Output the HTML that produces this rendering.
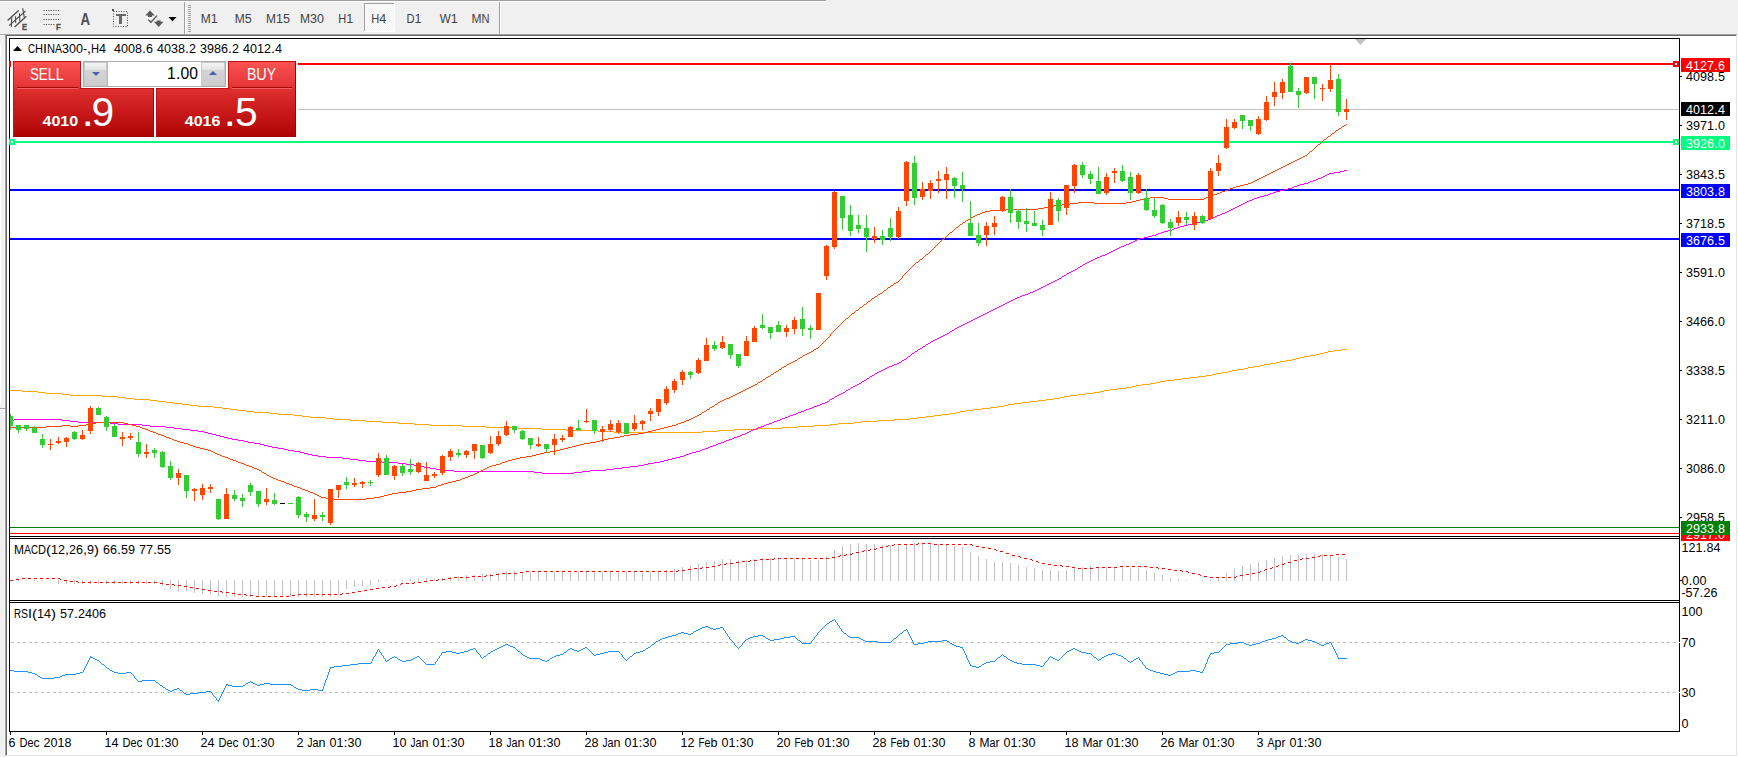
<!DOCTYPE html>
<html><head><meta charset="utf-8"><title>CHINA300-,H4</title>
<style>html,body{margin:0;padding:0;background:#f0f0f0;overflow:hidden}svg{display:block}text{white-space:pre}</style>
</head><body>
<svg width="1738" height="757" viewBox="0 0 1738 757" font-family='"Liberation Sans", Arial, sans-serif' shape-rendering="crispEdges">
<defs>
<linearGradient id="gtab" x1="0" y1="0" x2="0" y2="1"><stop offset="0" stop-color="#fb5353"/><stop offset="1" stop-color="#e23232"/></linearGradient>
<linearGradient id="gpan" x1="0" y1="0" x2="0" y2="1"><stop offset="0" stop-color="#e03030"/><stop offset="1" stop-color="#ae0202"/></linearGradient>
<linearGradient id="gbtn" x1="0" y1="0" x2="0" y2="1"><stop offset="0" stop-color="#f4f4f4"/><stop offset="0.3" stop-color="#e4e4e4"/><stop offset="0.31" stop-color="#d4d4d4"/><stop offset="1" stop-color="#cdcdcd"/></linearGradient>
<pattern id="dith" width="2" height="2" patternUnits="userSpaceOnUse"><rect width="2" height="2" fill="#ffffff"/><rect width="1" height="1" fill="#f0f0f0"/><rect x="1" y="1" width="1" height="1" fill="#f0f0f0"/></pattern>
</defs>
<rect x="0" y="0" width="1738" height="757" fill="#f0f0f0" />
<rect x="0" y="0" width="826" height="1" fill="#a0a0a0" />
<rect x="0" y="1" width="827" height="1" fill="#ffffff" />
<rect x="7" y="36" width="1729" height="719" fill="#ffffff" />
<rect x="0" y="44" width="1" height="361" fill="#ffffff" />
<rect x="4" y="36" width="1" height="721" fill="#f8f8f8" />
<rect x="0" y="34" width="1737" height="1" fill="#a0a0a0" />
<rect x="0" y="35" width="5" height="1" fill="#ffffff" />
<rect x="6" y="35" width="1730" height="1" fill="#696969" />
<rect x="0" y="408" width="5" height="1" fill="#a0a0a0" />
<rect x="0" y="409" width="5" height="1" fill="#ffffff" />
<rect x="5" y="34" width="1" height="722" fill="#a0a0a0" />
<rect x="6" y="35" width="1" height="720" fill="#696969" />
<rect x="1736" y="35" width="1" height="721" fill="#e3e3e3" />
<rect x="1737" y="34" width="1" height="723" fill="#ffffff" />
<rect x="6" y="755" width="1731" height="1" fill="#e3e3e3" />
<rect x="5" y="756" width="1733" height="1" fill="#ffffff" />
<g shape-rendering="geometricPrecision" stroke="#4c4c4c" fill="none" stroke-width="1.3">
<path d="M7.6 20.4 L18.6 10.4 M14.6 27 L26.3 16.3" stroke-width="1.3"/>
<path d="M9 25.6 L25.5 11 M11.7 17.3 L11.4 26.8 M15.5 16.3 L15.7 23 M19.4 13.3 L19.9 21.6 M22.7 8.2 L24.2 17.2" stroke-width="1.1"/>
</g>
<text y="29.7" font-size="9" fill="#505050" font-weight="bold" stroke="#505050" stroke-width="0.35"><tspan x="22" textLength="5.06" lengthAdjust="spacingAndGlyphs">E</tspan></text>
<line x1="43.5" y1="10.5" x2="60.5" y2="10.5" stroke="#505050" stroke-width="1" stroke-dasharray="1.2 1.2" shape-rendering="geometricPrecision"/>
<line x1="43.5" y1="14.5" x2="60.5" y2="14.5" stroke="#505050" stroke-width="1" stroke-dasharray="1.2 1.2" shape-rendering="geometricPrecision"/>
<line x1="43.5" y1="19.5" x2="60.5" y2="19.5" stroke="#505050" stroke-width="1" stroke-dasharray="1.2 1.2" shape-rendering="geometricPrecision"/>
<line x1="43.5" y1="24.5" x2="55.5" y2="24.5" stroke="#505050" stroke-width="1" stroke-dasharray="1.2 1.2" shape-rendering="geometricPrecision"/>
<text y="29.7" font-size="9" fill="#505050" font-weight="bold" stroke="#505050" stroke-width="0.35"><tspan x="56" textLength="4.73" lengthAdjust="spacingAndGlyphs">F</tspan></text>
<text y="24.5" font-size="16" fill="#505050" font-weight="bold" ><tspan x="80.6" textLength="9.6" lengthAdjust="spacingAndGlyphs">A</tspan></text>
<rect x="113.5" y="11.5" width="14" height="15" fill="none" stroke="#505050" stroke-dasharray="1 1.5" shape-rendering="geometricPrecision"/>
<rect x="112" y="9" width="2" height="2" fill="#505050" />
<rect x="116" y="14" width="10" height="2" fill="#686868" />
<rect x="119" y="14" width="3" height="10" fill="#686868" />
<g shape-rendering="geometricPrecision" fill="#585858">
<path d="M150 10.5 L154.8 15.6 L152 15.6 L152 17 L148 17 L148 15.6 L145.2 15.6 Z"/>
<path d="M158.7 27 L163.5 21.8 L160.7 21.8 L160.7 20.4 L156.7 20.4 L156.7 21.8 L153.9 21.8 Z"/>
<path d="M148.3 19.8 L151 22.3 L157 15.6" fill="none" stroke="#585858" stroke-width="1.4"/>
<path d="M168.5 17 L176.5 17 L172.5 21.2 Z" fill="#000"/>
</g>
<rect x="184" y="2" width="1" height="32" fill="#a0a0a0" />
<rect x="185" y="2" width="1" height="32" fill="#ffffff" />
<rect x="188" y="5" width="3" height="1" fill="#a0a0a0" />
<rect x="188" y="7" width="3" height="1" fill="#a0a0a0" />
<rect x="188" y="9" width="3" height="1" fill="#a0a0a0" />
<rect x="188" y="11" width="3" height="1" fill="#a0a0a0" />
<rect x="188" y="13" width="3" height="1" fill="#a0a0a0" />
<rect x="188" y="15" width="3" height="1" fill="#a0a0a0" />
<rect x="188" y="17" width="3" height="1" fill="#a0a0a0" />
<rect x="188" y="19" width="3" height="1" fill="#a0a0a0" />
<rect x="188" y="21" width="3" height="1" fill="#a0a0a0" />
<rect x="188" y="23" width="3" height="1" fill="#a0a0a0" />
<rect x="188" y="25" width="3" height="1" fill="#a0a0a0" />
<rect x="188" y="27" width="3" height="1" fill="#a0a0a0" />
<rect x="188" y="29" width="3" height="1" fill="#a0a0a0" />
<rect x="188" y="31" width="3" height="1" fill="#a0a0a0" />
<rect x="364" y="3" width="31" height="29" fill="url(#dith)" />
<rect x="364" y="3" width="31" height="1" fill="#a0a0a0" />
<rect x="364" y="3" width="1" height="29" fill="#a0a0a0" />
<rect x="364" y="31" width="31" height="1" fill="#ffffff" />
<rect x="394" y="3" width="1" height="29" fill="#ffffff" />
<text y="23.3" font-size="12" fill="#404040" font-weight="normal" ><tspan x="200.7" textLength="10" lengthAdjust="spacingAndGlyphs">M</tspan><tspan x="210.7" textLength="7" lengthAdjust="spacingAndGlyphs">1</tspan></text>
<text y="23.3" font-size="12" fill="#404040" font-weight="normal" ><tspan x="234.7" textLength="10" lengthAdjust="spacingAndGlyphs">M</tspan><tspan x="244.7" textLength="7" lengthAdjust="spacingAndGlyphs">5</tspan></text>
<text y="23.3" font-size="12" fill="#404040" font-weight="normal" ><tspan x="266" textLength="10" lengthAdjust="spacingAndGlyphs">M</tspan><tspan x="276" textLength="7" lengthAdjust="spacingAndGlyphs">1</tspan><tspan x="283" textLength="7" lengthAdjust="spacingAndGlyphs">5</tspan></text>
<text y="23.3" font-size="12" fill="#404040" font-weight="normal" ><tspan x="300" textLength="10" lengthAdjust="spacingAndGlyphs">M</tspan><tspan x="310" textLength="7" lengthAdjust="spacingAndGlyphs">3</tspan><tspan x="317" textLength="7" lengthAdjust="spacingAndGlyphs">0</tspan></text>
<text y="23.3" font-size="12" fill="#404040" font-weight="normal" ><tspan x="338.3" textLength="8" lengthAdjust="spacingAndGlyphs">H</tspan><tspan x="346.3" textLength="7" lengthAdjust="spacingAndGlyphs">1</tspan></text>
<text y="23.3" font-size="12" fill="#404040" font-weight="normal" ><tspan x="371.3" textLength="8" lengthAdjust="spacingAndGlyphs">H</tspan><tspan x="379.3" textLength="7" lengthAdjust="spacingAndGlyphs">4</tspan></text>
<text y="23.3" font-size="12" fill="#404040" font-weight="normal" ><tspan x="406.5" textLength="8" lengthAdjust="spacingAndGlyphs">D</tspan><tspan x="414.5" textLength="7" lengthAdjust="spacingAndGlyphs">1</tspan></text>
<text y="23.3" font-size="12" fill="#404040" font-weight="normal" ><tspan x="439.7" textLength="11" lengthAdjust="spacingAndGlyphs">W</tspan><tspan x="450.7" textLength="7" lengthAdjust="spacingAndGlyphs">1</tspan></text>
<text y="23.3" font-size="12" fill="#404040" font-weight="normal" ><tspan x="471.5" textLength="10" lengthAdjust="spacingAndGlyphs">M</tspan><tspan x="481.5" textLength="8" lengthAdjust="spacingAndGlyphs">N</tspan></text>
<rect x="499" y="2" width="1" height="32" fill="#a0a0a0" />
<rect x="500" y="2" width="1" height="32" fill="#ffffff" />
<rect x="9" y="38" width="1671" height="1" fill="#000" />
<rect x="9" y="38" width="1" height="694" fill="#000" />
<rect x="1679" y="38" width="1" height="694" fill="#000" />
<rect x="9" y="536" width="1671" height="1" fill="#000" />
<rect x="9" y="538" width="1671" height="1" fill="#000" />
<rect x="9" y="600" width="1671" height="1" fill="#000" />
<rect x="9" y="602" width="1671" height="1" fill="#000" />
<rect x="9" y="731" width="1671" height="1" fill="#000" />
<path d="M1355 39 L1366 39 L1360.5 45 Z" fill="#c0c0c0" shape-rendering="geometricPrecision"/>
<rect x="10" y="109" width="1669" height="1" fill="#c0c0c0" />
<rect x="10" y="527" width="1669" height="1" fill="#008000" />
<rect x="10" y="533" width="1669" height="1" fill="#ff0000" />
<rect x="10" y="189" width="1669" height="2" fill="#0000ff" />
<rect x="10" y="238" width="1669" height="2" fill="#0000ff" />
<rect x="10" y="141" width="1669" height="2" fill="#00ff7f" />
<rect x="10" y="63" width="1669" height="2" fill="#ff0000" />
<rect x="1673" y="61" width="6" height="6" fill="#ff0000" />
<rect x="1675" y="63" width="2" height="2" fill="#fff" />
<rect x="1673" y="139" width="6" height="6" fill="#00ff7f" />
<rect x="1675" y="141" width="2" height="2" fill="#fff" />
<rect x="9" y="139" width="6" height="6" fill="#00ff7f" />
<rect x="11" y="141" width="2" height="2" fill="#fff" />
<rect x="9" y="61" width="2" height="6" fill="#ff0000" />
<path d="M1342 349.5h5M1334 350.5h8M1328 351.5h6M1324 352.5h4M1320 353.5h4M1316 354.5h4M1310 355.5h6M1304 356.5h6M1300 357.5h4M1296 358.5h4M1292 359.5h4M1286 360.5h6M1280 361.5h6M1276 362.5h4M1270 363.5h6M1264 364.5h6M1260 365.5h4M1254 366.5h6M1248 367.5h6M1244 368.5h4M1238 369.5h6M1232 370.5h6M1228 371.5h4M1222 372.5h6M1216 373.5h6M1212 374.5h4M1206 375.5h6M1198 376.5h8M1190 377.5h8M1182 378.5h8M1174 379.5h8M1166 380.5h8M1160 381.5h6M1156 382.5h4M1150 383.5h6M1142 384.5h8M1136 385.5h6M1132 386.5h4M1126 387.5h6M1118 388.5h8M1110 389.5h8M10 390.5h12M1104 390.5h6M22 391.5h16M1100 391.5h4M38 392.5h8M1094 392.5h6M46 393.5h16M1086 393.5h8M62 394.5h8M1078 394.5h8M70 395.5h32M1070 395.5h8M102 396.5h16M1064 396.5h6M118 397.5h8M1060 397.5h4M126 398.5h8M1054 398.5h6M134 399.5h16M1046 399.5h8M150 400.5h8M1038 400.5h8M158 401.5h8M1030 401.5h8M166 402.5h8M1022 402.5h8M174 403.5h8M1014 403.5h8M182 404.5h8M1008 404.5h6M190 405.5h8M1004 405.5h4M198 406.5h16M998 406.5h6M214 407.5h8M990 407.5h8M222 408.5h8M982 408.5h8M230 409.5h8M974 409.5h8M238 410.5h8M966 410.5h8M246 411.5h8M960 411.5h6M254 412.5h16M956 412.5h4M270 413.5h8M950 413.5h6M278 414.5h16M942 414.5h8M294 415.5h8M934 415.5h8M302 416.5h8M926 416.5h8M310 417.5h16M918 417.5h8M326 418.5h8M910 418.5h8M334 419.5h16M894 419.5h16M350 420.5h16M878 420.5h16M366 421.5h16M862 421.5h16M382 422.5h16M854 422.5h8M398 423.5h16M838 423.5h16M414 424.5h16M830 424.5h8M430 425.5h32M814 425.5h16M462 426.5h24M798 426.5h16M486 427.5h32M782 427.5h16M518 428.5h24M758 428.5h24M542 429.5h24M734 429.5h24M566 430.5h32M718 430.5h16M598 431.5h16M702 431.5h16M614 432.5h88" stroke="#ffa500" stroke-width="1" fill="none"/>
<path d="M1344 170.5h3M1340 171.5h4M1334 172.5h6M1329 173.5h5M1327 174.5h2M1325 175.5h2M1323 176.5h2M1321 177.5h2M1318 178.5h3M1316 179.5h2M1313 180.5h3M1310 181.5h3M1308 182.5h2M1304 183.5h4M1300 184.5h4M1297 185.5h3M1294 186.5h3M1292 187.5h2M1288 188.5h4M1284 189.5h4M1280 190.5h4M1276 191.5h4M1273 192.5h3M1270 193.5h3M1268 194.5h2M1264 195.5h4M1260 196.5h4M1257 197.5h3M1254 198.5h3M1252 199.5h2M1249 200.5h3M1247 201.5h2M1245 202.5h2M1243 203.5h2M1241 204.5h2M1239 205.5h2M1237 206.5h2M1235 207.5h2M1233 208.5h2M1231 209.5h2M1229 210.5h2M1227 211.5h2M1225 212.5h2M1222 213.5h3M1220 214.5h2M1217 215.5h3M1215 216.5h2M1213 217.5h2M1211 218.5h2M1208 219.5h3M1204 220.5h4M1200 221.5h4M1196 222.5h4M1192 223.5h4M1188 224.5h4M1184 225.5h4M1180 226.5h4M1177 227.5h3M1174 228.5h3M1172 229.5h2M1168 230.5h4M1164 231.5h4M1161 232.5h3M1158 233.5h3M1156 234.5h2M1152 235.5h4M1148 236.5h4M1144 237.5h4M1140 238.5h4M1137 239.5h3M1135 240.5h2M1133 241.5h2M1131 242.5h2M1129 243.5h2M1126 244.5h3M1124 245.5h2M1121 246.5h3M1119 247.5h2M1117 248.5h2M1115 249.5h2M1113 250.5h2M1111 251.5h2M1109 252.5h2M1107 253.5h2M1105 254.5h2M1102 255.5h3M1100 256.5h2M1097 257.5h3M1095 258.5h2M1093 259.5h2M1091 260.5h2M1089 261.5h2M1087 262.5h2M1085 263.5h2M1083 264.5h2M1082 265.5h1M1080 266.5h2M1078 267.5h2M1077 268.5h1M1075 269.5h2M1073 270.5h2M1071 271.5h2M1069 272.5h2M1067 273.5h2M1066 274.5h1M1064 275.5h2M1062 276.5h2M1061 277.5h1M1059 278.5h2M1057 279.5h2M1055 280.5h2M1053 281.5h2M1051 282.5h2M1049 283.5h2M1047 284.5h2M1045 285.5h2M1043 286.5h2M1041 287.5h2M1039 288.5h2M1037 289.5h2M1035 290.5h2M1033 291.5h2M1030 292.5h3M1028 293.5h2M1025 294.5h3M1022 295.5h3M1020 296.5h2M1017 297.5h3M1015 298.5h2M1013 299.5h2M1011 300.5h2M1009 301.5h2M1007 302.5h2M1005 303.5h2M1003 304.5h2M1001 305.5h2M999 306.5h2M997 307.5h2M995 308.5h2M993 309.5h2M991 310.5h2M989 311.5h2M987 312.5h2M985 313.5h2M983 314.5h2M981 315.5h2M979 316.5h2M977 317.5h2M975 318.5h2M973 319.5h2M971 320.5h2M969 321.5h2M967 322.5h2M965 323.5h2M963 324.5h2M961 325.5h2M959 326.5h2M957 327.5h2M955 328.5h2M954 329.5h1M952 330.5h2M950 331.5h2M949 332.5h1M947 333.5h2M945 334.5h2M943 335.5h2M941 336.5h2M939 337.5h2M937 338.5h2M935 339.5h2M933 340.5h2M931 341.5h2M930 342.5h1M928 343.5h2M926 344.5h2M925 345.5h1M923 346.5h2M922 347.5h1M920 348.5h2M918 349.5h2M917 350.5h1M915 351.5h2M914 352.5h1M912 353.5h2M911 354.5h1M910 355.5h1M908 356.5h2M907 357.5h1M906 358.5h1M904 359.5h2M902 360.5h2M901 361.5h1M899 362.5h2M897 363.5h2M894 364.5h3M892 365.5h2M889 366.5h3M887 367.5h2M885 368.5h2M883 369.5h2M881 370.5h2M879 371.5h2M877 372.5h2M875 373.5h2M874 374.5h1M872 375.5h2M870 376.5h2M869 377.5h1M867 378.5h2M866 379.5h1M864 380.5h2M862 381.5h2M861 382.5h1M859 383.5h2M857 384.5h2M855 385.5h2M853 386.5h2M851 387.5h2M850 388.5h1M848 389.5h2M846 390.5h2M845 391.5h1M843 392.5h2M841 393.5h2M839 394.5h2M837 395.5h2M835 396.5h2M834 397.5h1M832 398.5h2M830 399.5h2M829 400.5h1M827 401.5h2M825 402.5h2M822 403.5h3M820 404.5h2M817 405.5h3M814 406.5h3M812 407.5h2M809 408.5h3M806 409.5h3M804 410.5h2M801 411.5h3M798 412.5h3M796 413.5h2M793 414.5h3M790 415.5h3M788 416.5h2M785 417.5h3M782 418.5h3M14 419.5h48M780 419.5h2M10 420.5h4M62 420.5h8M777 420.5h3M70 421.5h8M774 421.5h3M78 422.5h32M772 422.5h2M110 423.5h8M769 423.5h3M118 424.5h24M766 424.5h3M142 425.5h8M764 425.5h2M150 426.5h16M761 426.5h3M166 427.5h8M758 427.5h3M174 428.5h8M756 428.5h2M182 429.5h8M753 429.5h3M190 430.5h8M751 430.5h2M198 431.5h6M749 431.5h2M204 432.5h4M747 432.5h2M208 433.5h4M745 433.5h2M212 434.5h4M742 434.5h3M216 435.5h4M740 435.5h2M220 436.5h4M737 436.5h3M224 437.5h4M734 437.5h3M228 438.5h4M732 438.5h2M232 439.5h6M729 439.5h3M238 440.5h6M726 440.5h3M244 441.5h4M724 441.5h2M248 442.5h6M721 442.5h3M254 443.5h6M718 443.5h3M260 444.5h4M716 444.5h2M264 445.5h4M713 445.5h3M268 446.5h4M710 446.5h3M272 447.5h6M708 447.5h2M278 448.5h6M705 448.5h3M284 449.5h4M702 449.5h3M288 450.5h6M700 450.5h2M294 451.5h6M696 451.5h4M300 452.5h4M692 452.5h4M304 453.5h4M689 453.5h3M308 454.5h4M686 454.5h3M312 455.5h6M684 455.5h2M318 456.5h8M680 456.5h4M326 457.5h16M676 457.5h4M342 458.5h8M672 458.5h4M350 459.5h8M668 459.5h4M358 460.5h8M664 460.5h4M366 461.5h16M660 461.5h4M382 462.5h16M654 462.5h6M398 463.5h8M648 463.5h6M406 464.5h8M644 464.5h4M414 465.5h6M638 465.5h6M420 466.5h4M630 466.5h8M424 467.5h6M622 467.5h8M430 468.5h6M614 468.5h8M436 469.5h4M606 469.5h8M440 470.5h14M590 470.5h16M454 471.5h80M582 471.5h8M534 472.5h8M574 472.5h8M542 473.5h32" stroke="#ff00ff" stroke-width="1" fill="none"/>
<path d="M1346 124.5h1M1344 125.5h2M1342 126.5h2M1341 127.5h1M1339 128.5h2M1338 129.5h1M1336 130.5h2M1335 131.5h1M1334 132.5h1M1332 133.5h2M1331 134.5h1M1330 135.5h1M1328 136.5h2M1327 137.5h1M1326 138.5h1M1324 139.5h2M1323 140.5h1M1322 141.5h1M1321 142.5h1M1320 143.5h1M1318 144.5h2M1317 145.5h1M1316 146.5h1M1315 147.5h1M1314 148.5h1M1313 149.5h1M1312 150.5h1M1310 151.5h2M1309 152.5h1M1308 153.5h1M1307 154.5h1M1305 155.5h2M1303 156.5h2M1301 157.5h2M1299 158.5h2M1297 159.5h2M1295 160.5h2M1293 161.5h2M1291 162.5h2M1289 163.5h2M1287 164.5h2M1285 165.5h2M1283 166.5h2M1281 167.5h2M1279 168.5h2M1277 169.5h2M1275 170.5h2M1273 171.5h2M1271 172.5h2M1269 173.5h2M1267 174.5h2M1265 175.5h2M1263 176.5h2M1261 177.5h2M1259 178.5h2M1257 179.5h2M1255 180.5h2M1253 181.5h2M1251 182.5h2M1248 183.5h3M1244 184.5h4M1240 185.5h4M1236 186.5h4M1233 187.5h3M1230 188.5h3M1228 189.5h2M1225 190.5h3M1222 191.5h3M1220 192.5h2M1217 193.5h3M1214 194.5h3M1212 195.5h2M1209 196.5h3M1150 197.5h14M1206 197.5h3M1144 198.5h6M1164 198.5h4M1204 198.5h2M1140 199.5h4M1168 199.5h36M1136 200.5h4M1132 201.5h4M1078 202.5h16M1126 202.5h6M1070 203.5h8M1094 203.5h32M1062 204.5h8M1054 205.5h8M1048 206.5h6M1044 207.5h4M1038 208.5h6M1006 209.5h32M990 210.5h16M985 211.5h5M982 212.5h3M980 213.5h2M977 214.5h3M975 215.5h2M973 216.5h2M971 217.5h2M970 218.5h1M968 219.5h2M966 220.5h2M965 221.5h1M963 222.5h2M962 223.5h1M960 224.5h2M959 225.5h1M958 226.5h1M956 227.5h2M955 228.5h1M954 229.5h1M953 230.5h1M952 231.5h1M950 232.5h2M949 233.5h1M948 234.5h1M947 235.5h1M946 236.5h1M945 237.5h1M944 238.5h1M942 239.5h2M941 240.5h1M940 241.5h1M939 242.5h1M938 243.5h1M937 244.5h1M936 245.5h1M935 246.5h1M934 247.5h1M933 248.5h1M932 249.5h1M931 250.5h1M930 251.5h1M929 252.5h1M928 253.5h1M926 254.5h2M925 255.5h1M924 256.5h1M923 257.5h1M922 258.5h1M920 259.5h2M919 260.5h1M918 261.5h1M916 262.5h2M915 263.5h1M914 264.5h1M913 265.5h1M912 266.5h1M911 267.5h1M910 268.5h1M909 269.5h1M908 270.5h1M907 271.5h1M906 272.5h1M905 273.5h1M904 274.5h1M903 275.5h1M902 276.5h1M902 277.5h1M901 278.5h1M900 279.5h1M899 280.5h1M898 281.5h1M896 282.5h2M894 283.5h2M893 284.5h1M891 285.5h2M890 286.5h1M888 287.5h2M887 288.5h1M886 289.5h1M884 290.5h2M883 291.5h1M882 292.5h1M880 293.5h2M878 294.5h2M877 295.5h1M875 296.5h2M874 297.5h1M872 298.5h2M871 299.5h1M870 300.5h1M868 301.5h2M867 302.5h1M866 303.5h1M864 304.5h2M863 305.5h1M862 306.5h1M860 307.5h2M859 308.5h1M858 309.5h1M856 310.5h2M855 311.5h1M854 312.5h1M852 313.5h2M851 314.5h1M850 315.5h1M849 316.5h1M848 317.5h1M846 318.5h2M845 319.5h1M844 320.5h1M843 321.5h1M842 322.5h1M841 323.5h1M840 324.5h1M839 325.5h1M838 326.5h1M837 327.5h1M836 328.5h1M835 329.5h1M834 330.5h1M833 331.5h1M832 332.5h1M831 333.5h1M830 334.5h1M830 335.5h1M829 336.5h1M828 337.5h1M827 338.5h1M826 339.5h1M825 340.5h1M824 341.5h1M823 342.5h1M822 343.5h1M821 344.5h1M820 345.5h1M819 346.5h1M818 347.5h1M816 348.5h2M814 349.5h2M813 350.5h1M811 351.5h2M809 352.5h2M807 353.5h2M805 354.5h2M803 355.5h2M802 356.5h1M800 357.5h2M798 358.5h2M797 359.5h1M795 360.5h2M793 361.5h2M791 362.5h2M789 363.5h2M787 364.5h2M786 365.5h1M784 366.5h2M782 367.5h2M781 368.5h1M779 369.5h2M778 370.5h1M776 371.5h2M774 372.5h2M773 373.5h1M771 374.5h2M770 375.5h1M768 376.5h2M766 377.5h2M765 378.5h1M763 379.5h2M762 380.5h1M760 381.5h2M758 382.5h2M757 383.5h1M755 384.5h2M753 385.5h2M751 386.5h2M749 387.5h2M747 388.5h2M745 389.5h2M743 390.5h2M741 391.5h2M739 392.5h2M737 393.5h2M735 394.5h2M733 395.5h2M731 396.5h2M729 397.5h2M726 398.5h3M724 399.5h2M722 400.5h2M720 401.5h2M718 402.5h2M717 403.5h1M715 404.5h2M714 405.5h1M712 406.5h2M710 407.5h2M709 408.5h1M707 409.5h2M706 410.5h1M704 411.5h2M702 412.5h2M701 413.5h1M699 414.5h2M697 415.5h2M695 416.5h2M693 417.5h2M691 418.5h2M689 419.5h2M686 420.5h3M684 421.5h2M96 422.5h28M681 422.5h3M92 423.5h4M124 423.5h4M678 423.5h3M86 424.5h6M128 424.5h4M676 424.5h2M62 425.5h8M78 425.5h8M132 425.5h4M672 425.5h4M46 426.5h16M70 426.5h8M136 426.5h4M668 426.5h4M10 427.5h36M140 427.5h2M664 427.5h4M142 428.5h3M660 428.5h4M145 429.5h3M656 429.5h4M148 430.5h2M652 430.5h4M150 431.5h3M648 431.5h4M153 432.5h3M644 432.5h4M156 433.5h2M638 433.5h6M158 434.5h3M630 434.5h8M161 435.5h3M624 435.5h6M164 436.5h2M620 436.5h4M166 437.5h3M614 437.5h6M169 438.5h3M608 438.5h6M172 439.5h2M604 439.5h4M174 440.5h3M600 440.5h4M177 441.5h3M596 441.5h4M180 442.5h4M590 442.5h6M184 443.5h4M584 443.5h6M188 444.5h2M580 444.5h4M190 445.5h3M576 445.5h4M193 446.5h3M572 446.5h4M196 447.5h4M568 447.5h4M200 448.5h4M564 448.5h4M204 449.5h4M560 449.5h4M208 450.5h3M556 450.5h4M211 451.5h2M550 451.5h6M213 452.5h2M544 452.5h6M215 453.5h2M540 453.5h4M217 454.5h3M536 454.5h4M220 455.5h2M532 455.5h4M222 456.5h3M526 456.5h6M225 457.5h3M520 457.5h6M228 458.5h2M516 458.5h4M230 459.5h3M512 459.5h4M233 460.5h3M508 460.5h4M236 461.5h2M505 461.5h3M238 462.5h3M502 462.5h3M241 463.5h3M500 463.5h2M244 464.5h2M496 464.5h4M246 465.5h3M492 465.5h4M249 466.5h3M489 466.5h3M252 467.5h2M487 467.5h2M254 468.5h3M485 468.5h2M257 469.5h2M483 469.5h2M259 470.5h2M481 470.5h2M261 471.5h1M479 471.5h2M262 472.5h2M477 472.5h2M264 473.5h2M475 473.5h2M266 474.5h1M473 474.5h2M267 475.5h2M470 475.5h3M269 476.5h2M468 476.5h2M271 477.5h2M465 477.5h3M273 478.5h3M462 478.5h3M276 479.5h2M460 479.5h2M278 480.5h3M456 480.5h4M281 481.5h3M452 481.5h4M284 482.5h2M448 482.5h4M286 483.5h3M444 483.5h4M289 484.5h3M441 484.5h3M292 485.5h2M438 485.5h3M294 486.5h3M436 486.5h2M297 487.5h3M430 487.5h6M300 488.5h2M422 488.5h8M302 489.5h3M416 489.5h6M305 490.5h3M412 490.5h4M308 491.5h2M406 491.5h6M310 492.5h3M398 492.5h8M313 493.5h2M392 493.5h6M315 494.5h2M388 494.5h4M317 495.5h2M384 495.5h4M319 496.5h2M380 496.5h4M321 497.5h5M374 497.5h6M326 498.5h8M366 498.5h8M334 499.5h32" stroke="#ff4500" stroke-width="1" fill="none"/>
<g>
<rect x="10" y="414" width="1" height="16" fill="#32cd32" />
<rect x="10" y="416" width="3" height="10" fill="#32cd32" />
<rect x="18" y="425" width="1" height="8" fill="#32cd32" />
<rect x="16" y="425" width="5" height="5" fill="#32cd32" />
<rect x="26" y="425" width="1" height="6" fill="#32cd32" />
<rect x="24" y="425" width="5" height="4" fill="#32cd32" />
<rect x="34" y="426" width="1" height="7" fill="#32cd32" />
<rect x="32" y="428" width="5" height="5" fill="#32cd32" />
<rect x="42" y="434" width="1" height="14" fill="#32cd32" />
<rect x="40" y="439" width="5" height="6" fill="#32cd32" />
<rect x="50" y="439" width="1" height="11" fill="#ff4500" />
<rect x="48" y="444" width="5" height="1" fill="#ff4500" />
<rect x="58" y="437" width="1" height="7" fill="#ff4500" />
<rect x="56" y="441" width="5" height="2" fill="#ff4500" />
<rect x="66" y="437" width="1" height="10" fill="#ff4500" />
<rect x="64" y="438" width="5" height="4" fill="#ff4500" />
<rect x="74" y="431" width="1" height="9" fill="#32cd32" />
<rect x="72" y="432" width="5" height="7" fill="#32cd32" />
<rect x="82" y="430" width="1" height="10" fill="#ff4500" />
<rect x="80" y="435" width="5" height="4" fill="#ff4500" />
<rect x="90" y="406" width="1" height="28" fill="#ff4500" />
<rect x="88" y="408" width="5" height="23" fill="#ff4500" />
<rect x="98" y="407" width="1" height="8" fill="#32cd32" />
<rect x="96" y="408" width="5" height="7" fill="#32cd32" />
<rect x="106" y="416" width="1" height="15" fill="#32cd32" />
<rect x="104" y="417" width="5" height="10" fill="#32cd32" />
<rect x="114" y="424" width="1" height="13" fill="#32cd32" />
<rect x="112" y="426" width="5" height="11" fill="#32cd32" />
<rect x="122" y="432" width="1" height="14" fill="#ff4500" />
<rect x="120" y="437" width="5" height="2" fill="#ff4500" />
<rect x="130" y="433" width="1" height="7" fill="#ff4500" />
<rect x="128" y="436" width="5" height="2" fill="#ff4500" />
<rect x="138" y="432" width="1" height="25" fill="#32cd32" />
<rect x="136" y="442" width="5" height="12" fill="#32cd32" />
<rect x="146" y="444" width="1" height="14" fill="#ff4500" />
<rect x="144" y="452" width="5" height="2" fill="#ff4500" />
<rect x="154" y="448" width="1" height="10" fill="#32cd32" />
<rect x="152" y="450" width="5" height="3" fill="#32cd32" />
<rect x="162" y="451" width="1" height="17" fill="#32cd32" />
<rect x="160" y="452" width="5" height="15" fill="#32cd32" />
<rect x="170" y="461" width="1" height="19" fill="#32cd32" />
<rect x="168" y="466" width="5" height="12" fill="#32cd32" />
<rect x="178" y="469" width="1" height="16" fill="#ff4500" />
<rect x="176" y="473" width="5" height="5" fill="#ff4500" />
<rect x="186" y="475" width="1" height="23" fill="#32cd32" />
<rect x="184" y="475" width="5" height="16" fill="#32cd32" />
<rect x="194" y="488" width="1" height="13" fill="#ff4500" />
<rect x="192" y="489" width="5" height="2" fill="#ff4500" />
<rect x="202" y="484" width="1" height="16" fill="#ff4500" />
<rect x="200" y="488" width="5" height="7" fill="#ff4500" />
<rect x="210" y="484" width="1" height="9" fill="#ff4500" />
<rect x="208" y="487" width="5" height="2" fill="#ff4500" />
<rect x="218" y="499" width="1" height="21" fill="#32cd32" />
<rect x="216" y="499" width="5" height="20" fill="#32cd32" />
<rect x="226" y="488" width="1" height="31" fill="#ff4500" />
<rect x="224" y="494" width="5" height="25" fill="#ff4500" />
<rect x="234" y="490" width="1" height="11" fill="#32cd32" />
<rect x="232" y="495" width="5" height="4" fill="#32cd32" />
<rect x="242" y="494" width="1" height="13" fill="#32cd32" />
<rect x="240" y="498" width="5" height="3" fill="#32cd32" />
<rect x="250" y="483" width="1" height="13" fill="#32cd32" />
<rect x="248" y="485" width="5" height="7" fill="#32cd32" />
<rect x="258" y="491" width="1" height="16" fill="#32cd32" />
<rect x="256" y="491" width="5" height="13" fill="#32cd32" />
<rect x="266" y="488" width="1" height="17" fill="#ff4500" />
<rect x="264" y="499" width="5" height="3" fill="#ff4500" />
<rect x="274" y="493" width="1" height="12" fill="#32cd32" />
<rect x="272" y="500" width="5" height="4" fill="#32cd32" />
<rect x="282" y="503" width="1" height="1" fill="#000000" />
<rect x="280" y="503" width="5" height="1" fill="#000000" />
<rect x="290" y="503" width="1" height="1" fill="#32cd32" />
<rect x="288" y="503" width="5" height="1" fill="#32cd32" />
<rect x="298" y="496" width="1" height="22" fill="#32cd32" />
<rect x="296" y="497" width="5" height="18" fill="#32cd32" />
<rect x="306" y="512" width="1" height="10" fill="#32cd32" />
<rect x="304" y="514" width="5" height="3" fill="#32cd32" />
<rect x="314" y="499" width="1" height="22" fill="#ff4500" />
<rect x="312" y="515" width="5" height="4" fill="#ff4500" />
<rect x="322" y="512" width="1" height="9" fill="#32cd32" />
<rect x="320" y="515" width="5" height="2" fill="#32cd32" />
<rect x="330" y="489" width="1" height="36" fill="#ff4500" />
<rect x="328" y="489" width="5" height="34" fill="#ff4500" />
<rect x="338" y="485" width="1" height="13" fill="#ff4500" />
<rect x="336" y="485" width="5" height="5" fill="#ff4500" />
<rect x="346" y="477" width="1" height="12" fill="#32cd32" />
<rect x="344" y="482" width="5" height="3" fill="#32cd32" />
<rect x="354" y="478" width="1" height="9" fill="#ff4500" />
<rect x="352" y="483" width="5" height="2" fill="#ff4500" />
<rect x="362" y="481" width="1" height="7" fill="#ff4500" />
<rect x="360" y="482" width="5" height="2" fill="#ff4500" />
<rect x="370" y="480" width="1" height="6" fill="#32cd32" />
<rect x="368" y="482" width="5" height="1" fill="#32cd32" />
<rect x="378" y="453" width="1" height="24" fill="#ff4500" />
<rect x="376" y="458" width="5" height="17" fill="#ff4500" />
<rect x="386" y="455" width="1" height="20" fill="#32cd32" />
<rect x="384" y="458" width="5" height="17" fill="#32cd32" />
<rect x="394" y="465" width="1" height="15" fill="#ff4500" />
<rect x="392" y="466" width="5" height="10" fill="#ff4500" />
<rect x="402" y="464" width="1" height="12" fill="#32cd32" />
<rect x="400" y="466" width="5" height="7" fill="#32cd32" />
<rect x="410" y="459" width="1" height="16" fill="#32cd32" />
<rect x="408" y="469" width="5" height="3" fill="#32cd32" />
<rect x="418" y="462" width="1" height="11" fill="#ff4500" />
<rect x="416" y="463" width="5" height="9" fill="#ff4500" />
<rect x="426" y="462" width="1" height="19" fill="#ff4500" />
<rect x="424" y="475" width="5" height="6" fill="#ff4500" />
<rect x="434" y="472" width="1" height="6" fill="#ff4500" />
<rect x="432" y="474" width="5" height="2" fill="#ff4500" />
<rect x="442" y="455" width="1" height="20" fill="#ff4500" />
<rect x="440" y="456" width="5" height="17" fill="#ff4500" />
<rect x="450" y="449" width="1" height="12" fill="#ff4500" />
<rect x="448" y="451" width="5" height="6" fill="#ff4500" />
<rect x="458" y="449" width="1" height="8" fill="#32cd32" />
<rect x="456" y="453" width="5" height="2" fill="#32cd32" />
<rect x="466" y="450" width="1" height="8" fill="#ff4500" />
<rect x="464" y="451" width="5" height="4" fill="#ff4500" />
<rect x="474" y="444" width="1" height="15" fill="#ff4500" />
<rect x="472" y="444" width="5" height="7" fill="#ff4500" />
<rect x="482" y="445" width="1" height="14" fill="#32cd32" />
<rect x="480" y="445" width="5" height="13" fill="#32cd32" />
<rect x="490" y="436" width="1" height="18" fill="#ff4500" />
<rect x="488" y="444" width="5" height="9" fill="#ff4500" />
<rect x="498" y="431" width="1" height="15" fill="#ff4500" />
<rect x="496" y="436" width="5" height="8" fill="#ff4500" />
<rect x="506" y="421" width="1" height="15" fill="#ff4500" />
<rect x="504" y="426" width="5" height="9" fill="#ff4500" />
<rect x="514" y="426" width="1" height="7" fill="#32cd32" />
<rect x="512" y="426" width="5" height="4" fill="#32cd32" />
<rect x="522" y="430" width="1" height="10" fill="#32cd32" />
<rect x="520" y="431" width="5" height="8" fill="#32cd32" />
<rect x="530" y="438" width="1" height="11" fill="#32cd32" />
<rect x="528" y="438" width="5" height="7" fill="#32cd32" />
<rect x="538" y="437" width="1" height="10" fill="#ff4500" />
<rect x="536" y="444" width="5" height="2" fill="#ff4500" />
<rect x="546" y="444" width="1" height="8" fill="#32cd32" />
<rect x="544" y="444" width="5" height="5" fill="#32cd32" />
<rect x="554" y="434" width="1" height="21" fill="#ff4500" />
<rect x="552" y="439" width="5" height="6" fill="#ff4500" />
<rect x="562" y="435" width="1" height="7" fill="#ff4500" />
<rect x="560" y="438" width="5" height="2" fill="#ff4500" />
<rect x="570" y="426" width="1" height="11" fill="#ff4500" />
<rect x="568" y="427" width="5" height="10" fill="#ff4500" />
<rect x="578" y="420" width="1" height="11" fill="#32cd32" />
<rect x="576" y="428" width="5" height="2" fill="#32cd32" />
<rect x="586" y="409" width="1" height="14" fill="#ff4500" />
<rect x="584" y="421" width="5" height="1" fill="#ff4500" />
<rect x="594" y="420" width="1" height="14" fill="#32cd32" />
<rect x="592" y="420" width="5" height="11" fill="#32cd32" />
<rect x="602" y="426" width="1" height="16" fill="#ff4500" />
<rect x="600" y="429" width="5" height="3" fill="#ff4500" />
<rect x="610" y="420" width="1" height="12" fill="#ff4500" />
<rect x="608" y="424" width="5" height="6" fill="#ff4500" />
<rect x="618" y="420" width="1" height="14" fill="#ff4500" />
<rect x="616" y="423" width="5" height="9" fill="#ff4500" />
<rect x="626" y="423" width="1" height="11" fill="#32cd32" />
<rect x="624" y="423" width="5" height="11" fill="#32cd32" />
<rect x="634" y="415" width="1" height="16" fill="#ff4500" />
<rect x="632" y="423" width="5" height="6" fill="#ff4500" />
<rect x="642" y="420" width="1" height="10" fill="#ff4500" />
<rect x="640" y="421" width="5" height="3" fill="#ff4500" />
<rect x="650" y="408" width="1" height="13" fill="#ff4500" />
<rect x="648" y="411" width="5" height="3" fill="#ff4500" />
<rect x="658" y="399" width="1" height="17" fill="#ff4500" />
<rect x="656" y="399" width="5" height="13" fill="#ff4500" />
<rect x="666" y="386" width="1" height="19" fill="#ff4500" />
<rect x="664" y="389" width="5" height="14" fill="#ff4500" />
<rect x="674" y="379" width="1" height="14" fill="#ff4500" />
<rect x="672" y="381" width="5" height="9" fill="#ff4500" />
<rect x="682" y="370" width="1" height="15" fill="#ff4500" />
<rect x="680" y="372" width="5" height="8" fill="#ff4500" />
<rect x="690" y="371" width="1" height="8" fill="#32cd32" />
<rect x="688" y="372" width="5" height="3" fill="#32cd32" />
<rect x="698" y="358" width="1" height="16" fill="#ff4500" />
<rect x="696" y="360" width="5" height="13" fill="#ff4500" />
<rect x="706" y="338" width="1" height="23" fill="#ff4500" />
<rect x="704" y="345" width="5" height="16" fill="#ff4500" />
<rect x="714" y="341" width="1" height="10" fill="#32cd32" />
<rect x="712" y="345" width="5" height="4" fill="#32cd32" />
<rect x="722" y="336" width="1" height="13" fill="#ff4500" />
<rect x="720" y="342" width="5" height="6" fill="#ff4500" />
<rect x="730" y="344" width="1" height="15" fill="#32cd32" />
<rect x="728" y="344" width="5" height="11" fill="#32cd32" />
<rect x="738" y="354" width="1" height="14" fill="#32cd32" />
<rect x="736" y="354" width="5" height="12" fill="#32cd32" />
<rect x="746" y="336" width="1" height="20" fill="#ff4500" />
<rect x="744" y="341" width="5" height="15" fill="#ff4500" />
<rect x="754" y="326" width="1" height="16" fill="#ff4500" />
<rect x="752" y="328" width="5" height="14" fill="#ff4500" />
<rect x="762" y="314" width="1" height="15" fill="#32cd32" />
<rect x="760" y="325" width="5" height="3" fill="#32cd32" />
<rect x="770" y="327" width="1" height="12" fill="#32cd32" />
<rect x="768" y="327" width="5" height="6" fill="#32cd32" />
<rect x="778" y="321" width="1" height="11" fill="#32cd32" />
<rect x="776" y="325" width="5" height="7" fill="#32cd32" />
<rect x="786" y="325" width="1" height="12" fill="#ff4500" />
<rect x="784" y="328" width="5" height="4" fill="#ff4500" />
<rect x="794" y="317" width="1" height="17" fill="#ff4500" />
<rect x="792" y="320" width="5" height="9" fill="#ff4500" />
<rect x="802" y="307" width="1" height="29" fill="#32cd32" />
<rect x="800" y="319" width="5" height="10" fill="#32cd32" />
<rect x="810" y="325" width="1" height="14" fill="#32cd32" />
<rect x="808" y="328" width="5" height="2" fill="#32cd32" />
<rect x="818" y="293" width="1" height="37" fill="#ff4500" />
<rect x="816" y="293" width="5" height="37" fill="#ff4500" />
<rect x="826" y="245" width="1" height="35" fill="#ff4500" />
<rect x="824" y="246" width="5" height="30" fill="#ff4500" />
<rect x="834" y="191" width="1" height="58" fill="#ff4500" />
<rect x="832" y="192" width="5" height="55" fill="#ff4500" />
<rect x="842" y="196" width="1" height="34" fill="#32cd32" />
<rect x="840" y="196" width="5" height="22" fill="#32cd32" />
<rect x="850" y="205" width="1" height="31" fill="#32cd32" />
<rect x="848" y="215" width="5" height="16" fill="#32cd32" />
<rect x="858" y="215" width="1" height="18" fill="#32cd32" />
<rect x="856" y="225" width="5" height="4" fill="#32cd32" />
<rect x="866" y="215" width="1" height="37" fill="#32cd32" />
<rect x="864" y="228" width="5" height="9" fill="#32cd32" />
<rect x="874" y="227" width="1" height="16" fill="#ff4500" />
<rect x="872" y="236" width="5" height="3" fill="#ff4500" />
<rect x="882" y="230" width="1" height="15" fill="#32cd32" />
<rect x="880" y="236" width="5" height="4" fill="#32cd32" />
<rect x="890" y="218" width="1" height="23" fill="#32cd32" />
<rect x="888" y="228" width="5" height="9" fill="#32cd32" />
<rect x="898" y="207" width="1" height="32" fill="#ff4500" />
<rect x="896" y="211" width="5" height="26" fill="#ff4500" />
<rect x="906" y="161" width="1" height="45" fill="#ff4500" />
<rect x="904" y="162" width="5" height="39" fill="#ff4500" />
<rect x="914" y="156" width="1" height="49" fill="#32cd32" />
<rect x="912" y="163" width="5" height="35" fill="#32cd32" />
<rect x="922" y="182" width="1" height="18" fill="#ff4500" />
<rect x="920" y="189" width="5" height="8" fill="#ff4500" />
<rect x="930" y="180" width="1" height="19" fill="#ff4500" />
<rect x="928" y="183" width="5" height="8" fill="#ff4500" />
<rect x="938" y="171" width="1" height="22" fill="#ff4500" />
<rect x="936" y="179" width="5" height="2" fill="#ff4500" />
<rect x="946" y="167" width="1" height="32" fill="#ff4500" />
<rect x="944" y="174" width="5" height="6" fill="#ff4500" />
<rect x="954" y="177" width="1" height="21" fill="#32cd32" />
<rect x="952" y="178" width="5" height="8" fill="#32cd32" />
<rect x="962" y="172" width="1" height="30" fill="#32cd32" />
<rect x="960" y="185" width="5" height="4" fill="#32cd32" />
<rect x="970" y="201" width="1" height="35" fill="#32cd32" />
<rect x="968" y="223" width="5" height="13" fill="#32cd32" />
<rect x="978" y="223" width="1" height="23" fill="#32cd32" />
<rect x="976" y="235" width="5" height="8" fill="#32cd32" />
<rect x="986" y="222" width="1" height="24" fill="#ff4500" />
<rect x="984" y="226" width="5" height="9" fill="#ff4500" />
<rect x="994" y="216" width="1" height="19" fill="#ff4500" />
<rect x="992" y="223" width="5" height="4" fill="#ff4500" />
<rect x="1002" y="196" width="1" height="16" fill="#ff4500" />
<rect x="1000" y="197" width="5" height="13" fill="#ff4500" />
<rect x="1010" y="189" width="1" height="34" fill="#32cd32" />
<rect x="1008" y="197" width="5" height="16" fill="#32cd32" />
<rect x="1018" y="209" width="1" height="20" fill="#32cd32" />
<rect x="1016" y="211" width="5" height="11" fill="#32cd32" />
<rect x="1026" y="208" width="1" height="24" fill="#32cd32" />
<rect x="1024" y="221" width="5" height="3" fill="#32cd32" />
<rect x="1034" y="211" width="1" height="15" fill="#32cd32" />
<rect x="1032" y="223" width="5" height="3" fill="#32cd32" />
<rect x="1042" y="220" width="1" height="16" fill="#32cd32" />
<rect x="1040" y="225" width="5" height="5" fill="#32cd32" />
<rect x="1050" y="192" width="1" height="33" fill="#ff4500" />
<rect x="1048" y="199" width="5" height="26" fill="#ff4500" />
<rect x="1058" y="198" width="1" height="24" fill="#32cd32" />
<rect x="1056" y="200" width="5" height="11" fill="#32cd32" />
<rect x="1066" y="185" width="1" height="30" fill="#ff4500" />
<rect x="1064" y="185" width="5" height="23" fill="#ff4500" />
<rect x="1074" y="164" width="1" height="29" fill="#ff4500" />
<rect x="1072" y="165" width="5" height="21" fill="#ff4500" />
<rect x="1082" y="162" width="1" height="16" fill="#32cd32" />
<rect x="1080" y="165" width="5" height="10" fill="#32cd32" />
<rect x="1090" y="171" width="1" height="13" fill="#32cd32" />
<rect x="1088" y="174" width="5" height="5" fill="#32cd32" />
<rect x="1098" y="167" width="1" height="27" fill="#32cd32" />
<rect x="1096" y="181" width="5" height="13" fill="#32cd32" />
<rect x="1106" y="173" width="1" height="22" fill="#ff4500" />
<rect x="1104" y="177" width="5" height="16" fill="#ff4500" />
<rect x="1114" y="168" width="1" height="15" fill="#ff4500" />
<rect x="1112" y="171" width="5" height="2" fill="#ff4500" />
<rect x="1122" y="165" width="1" height="17" fill="#32cd32" />
<rect x="1120" y="171" width="5" height="10" fill="#32cd32" />
<rect x="1130" y="172" width="1" height="28" fill="#32cd32" />
<rect x="1128" y="177" width="5" height="16" fill="#32cd32" />
<rect x="1138" y="173" width="1" height="21" fill="#ff4500" />
<rect x="1136" y="175" width="5" height="18" fill="#ff4500" />
<rect x="1146" y="189" width="1" height="22" fill="#32cd32" />
<rect x="1144" y="198" width="5" height="12" fill="#32cd32" />
<rect x="1154" y="198" width="1" height="20" fill="#32cd32" />
<rect x="1152" y="210" width="5" height="6" fill="#32cd32" />
<rect x="1162" y="204" width="1" height="20" fill="#32cd32" />
<rect x="1160" y="205" width="5" height="18" fill="#32cd32" />
<rect x="1170" y="219" width="1" height="17" fill="#32cd32" />
<rect x="1168" y="222" width="5" height="6" fill="#32cd32" />
<rect x="1178" y="211" width="1" height="15" fill="#ff4500" />
<rect x="1176" y="217" width="5" height="6" fill="#ff4500" />
<rect x="1186" y="212" width="1" height="13" fill="#32cd32" />
<rect x="1184" y="217" width="5" height="3" fill="#32cd32" />
<rect x="1194" y="212" width="1" height="18" fill="#ff4500" />
<rect x="1192" y="216" width="5" height="9" fill="#ff4500" />
<rect x="1202" y="215" width="1" height="9" fill="#32cd32" />
<rect x="1200" y="216" width="5" height="7" fill="#32cd32" />
<rect x="1210" y="168" width="1" height="51" fill="#ff4500" />
<rect x="1208" y="171" width="5" height="48" fill="#ff4500" />
<rect x="1218" y="155" width="1" height="21" fill="#ff4500" />
<rect x="1216" y="163" width="5" height="8" fill="#ff4500" />
<rect x="1226" y="119" width="1" height="30" fill="#ff4500" />
<rect x="1224" y="127" width="5" height="21" fill="#ff4500" />
<rect x="1234" y="119" width="1" height="10" fill="#ff4500" />
<rect x="1232" y="122" width="5" height="6" fill="#ff4500" />
<rect x="1242" y="115" width="1" height="14" fill="#32cd32" />
<rect x="1240" y="115" width="5" height="6" fill="#32cd32" />
<rect x="1250" y="120" width="1" height="11" fill="#32cd32" />
<rect x="1248" y="120" width="5" height="6" fill="#32cd32" />
<rect x="1258" y="116" width="1" height="19" fill="#ff4500" />
<rect x="1256" y="119" width="5" height="15" fill="#ff4500" />
<rect x="1266" y="96" width="1" height="25" fill="#ff4500" />
<rect x="1264" y="102" width="5" height="18" fill="#ff4500" />
<rect x="1274" y="82" width="1" height="24" fill="#ff4500" />
<rect x="1272" y="92" width="5" height="5" fill="#ff4500" />
<rect x="1282" y="79" width="1" height="20" fill="#ff4500" />
<rect x="1280" y="82" width="5" height="11" fill="#ff4500" />
<rect x="1290" y="63" width="1" height="29" fill="#32cd32" />
<rect x="1288" y="66" width="5" height="26" fill="#32cd32" />
<rect x="1298" y="88" width="1" height="20" fill="#32cd32" />
<rect x="1296" y="91" width="5" height="4" fill="#32cd32" />
<rect x="1306" y="77" width="1" height="17" fill="#ff4500" />
<rect x="1304" y="77" width="5" height="16" fill="#ff4500" />
<rect x="1314" y="77" width="1" height="22" fill="#32cd32" />
<rect x="1312" y="77" width="5" height="7" fill="#32cd32" />
<rect x="1322" y="84" width="1" height="17" fill="#ff4500" />
<rect x="1320" y="88" width="5" height="1" fill="#ff4500" />
<rect x="1330" y="64" width="1" height="28" fill="#ff4500" />
<rect x="1328" y="80" width="5" height="9" fill="#ff4500" />
<rect x="1338" y="74" width="1" height="42" fill="#32cd32" />
<rect x="1336" y="79" width="5" height="33" fill="#32cd32" />
<rect x="1346" y="99" width="1" height="21" fill="#ff4500" />
<rect x="1344" y="109" width="5" height="3" fill="#ff4500" />
</g>
<g fill="#c0c0c0">
<rect x="18" y="580" width="1" height="1"/>
<rect x="26" y="580" width="1" height="1"/>
<rect x="34" y="580" width="1" height="1"/>
<rect x="42" y="580" width="1" height="1"/>
<rect x="50" y="580" width="1" height="1"/>
<rect x="58" y="580" width="1" height="4"/>
<rect x="66" y="580" width="1" height="4"/>
<rect x="74" y="580" width="1" height="4"/>
<rect x="82" y="580" width="1" height="4"/>
<rect x="90" y="580" width="1" height="4"/>
<rect x="98" y="580" width="1" height="4"/>
<rect x="106" y="580" width="1" height="4"/>
<rect x="114" y="580" width="1" height="4"/>
<rect x="122" y="580" width="1" height="4"/>
<rect x="130" y="580" width="1" height="4"/>
<rect x="138" y="580" width="1" height="4"/>
<rect x="146" y="580" width="1" height="4"/>
<rect x="154" y="580" width="1" height="4"/>
<rect x="162" y="580" width="1" height="6"/>
<rect x="170" y="580" width="1" height="9"/>
<rect x="178" y="580" width="1" height="11"/>
<rect x="186" y="580" width="1" height="11"/>
<rect x="194" y="580" width="1" height="13"/>
<rect x="202" y="580" width="1" height="14"/>
<rect x="210" y="580" width="1" height="14"/>
<rect x="218" y="580" width="1" height="16"/>
<rect x="226" y="580" width="1" height="17"/>
<rect x="234" y="580" width="1" height="17"/>
<rect x="242" y="580" width="1" height="17"/>
<rect x="250" y="580" width="1" height="17"/>
<rect x="258" y="580" width="1" height="17"/>
<rect x="266" y="580" width="1" height="17"/>
<rect x="274" y="580" width="1" height="17"/>
<rect x="282" y="580" width="1" height="17"/>
<rect x="290" y="580" width="1" height="17"/>
<rect x="298" y="580" width="1" height="17"/>
<rect x="306" y="580" width="1" height="17"/>
<rect x="314" y="580" width="1" height="17"/>
<rect x="322" y="580" width="1" height="17"/>
<rect x="330" y="580" width="1" height="17"/>
<rect x="338" y="580" width="1" height="14"/>
<rect x="346" y="580" width="1" height="9"/>
<rect x="354" y="580" width="1" height="7"/>
<rect x="362" y="580" width="1" height="6"/>
<rect x="370" y="580" width="1" height="5"/>
<rect x="378" y="580" width="1" height="2"/>
<rect x="386" y="580" width="1" height="1"/>
<rect x="394" y="580" width="1" height="1"/>
<rect x="402" y="580" width="1" height="1"/>
<rect x="410" y="579" width="1" height="2"/>
<rect x="418" y="578" width="1" height="3"/>
<rect x="426" y="578" width="1" height="3"/>
<rect x="434" y="579" width="1" height="2"/>
<rect x="442" y="578" width="1" height="3"/>
<rect x="450" y="577" width="1" height="4"/>
<rect x="458" y="576" width="1" height="5"/>
<rect x="466" y="575" width="1" height="6"/>
<rect x="474" y="575" width="1" height="6"/>
<rect x="482" y="574" width="1" height="7"/>
<rect x="490" y="574" width="1" height="7"/>
<rect x="498" y="573" width="1" height="8"/>
<rect x="506" y="571" width="1" height="10"/>
<rect x="514" y="571" width="1" height="10"/>
<rect x="522" y="572" width="1" height="9"/>
<rect x="530" y="572" width="1" height="9"/>
<rect x="538" y="572" width="1" height="9"/>
<rect x="546" y="572" width="1" height="9"/>
<rect x="554" y="572" width="1" height="9"/>
<rect x="562" y="572" width="1" height="9"/>
<rect x="570" y="572" width="1" height="9"/>
<rect x="578" y="572" width="1" height="9"/>
<rect x="586" y="572" width="1" height="9"/>
<rect x="594" y="572" width="1" height="9"/>
<rect x="602" y="572" width="1" height="9"/>
<rect x="610" y="572" width="1" height="9"/>
<rect x="618" y="572" width="1" height="9"/>
<rect x="626" y="572" width="1" height="9"/>
<rect x="634" y="572" width="1" height="9"/>
<rect x="642" y="573" width="1" height="8"/>
<rect x="650" y="572" width="1" height="9"/>
<rect x="658" y="571" width="1" height="10"/>
<rect x="666" y="570" width="1" height="11"/>
<rect x="674" y="569" width="1" height="12"/>
<rect x="682" y="567" width="1" height="14"/>
<rect x="690" y="566" width="1" height="15"/>
<rect x="698" y="564" width="1" height="17"/>
<rect x="706" y="562" width="1" height="19"/>
<rect x="714" y="561" width="1" height="20"/>
<rect x="722" y="559" width="1" height="22"/>
<rect x="730" y="559" width="1" height="22"/>
<rect x="738" y="560" width="1" height="21"/>
<rect x="746" y="560" width="1" height="21"/>
<rect x="754" y="559" width="1" height="22"/>
<rect x="762" y="558" width="1" height="23"/>
<rect x="770" y="558" width="1" height="23"/>
<rect x="778" y="559" width="1" height="22"/>
<rect x="786" y="559" width="1" height="22"/>
<rect x="794" y="559" width="1" height="22"/>
<rect x="802" y="559" width="1" height="22"/>
<rect x="810" y="560" width="1" height="21"/>
<rect x="818" y="560" width="1" height="21"/>
<rect x="826" y="556" width="1" height="25"/>
<rect x="834" y="550" width="1" height="31"/>
<rect x="842" y="546" width="1" height="35"/>
<rect x="850" y="544" width="1" height="37"/>
<rect x="858" y="543" width="1" height="38"/>
<rect x="866" y="544" width="1" height="37"/>
<rect x="874" y="544" width="1" height="37"/>
<rect x="882" y="545" width="1" height="36"/>
<rect x="890" y="546" width="1" height="35"/>
<rect x="898" y="546" width="1" height="35"/>
<rect x="906" y="545" width="1" height="36"/>
<rect x="914" y="543" width="1" height="38"/>
<rect x="922" y="543" width="1" height="38"/>
<rect x="930" y="543" width="1" height="38"/>
<rect x="938" y="544" width="1" height="37"/>
<rect x="946" y="545" width="1" height="36"/>
<rect x="954" y="546" width="1" height="35"/>
<rect x="962" y="547" width="1" height="34"/>
<rect x="970" y="552" width="1" height="29"/>
<rect x="978" y="556" width="1" height="25"/>
<rect x="986" y="559" width="1" height="22"/>
<rect x="994" y="562" width="1" height="19"/>
<rect x="1002" y="562" width="1" height="19"/>
<rect x="1010" y="563" width="1" height="18"/>
<rect x="1018" y="565" width="1" height="16"/>
<rect x="1026" y="567" width="1" height="14"/>
<rect x="1034" y="568" width="1" height="13"/>
<rect x="1042" y="570" width="1" height="11"/>
<rect x="1050" y="570" width="1" height="11"/>
<rect x="1058" y="571" width="1" height="10"/>
<rect x="1066" y="570" width="1" height="11"/>
<rect x="1074" y="567" width="1" height="14"/>
<rect x="1082" y="567" width="1" height="14"/>
<rect x="1090" y="566" width="1" height="15"/>
<rect x="1098" y="567" width="1" height="14"/>
<rect x="1106" y="567" width="1" height="14"/>
<rect x="1114" y="567" width="1" height="14"/>
<rect x="1122" y="567" width="1" height="14"/>
<rect x="1130" y="568" width="1" height="13"/>
<rect x="1138" y="568" width="1" height="13"/>
<rect x="1146" y="570" width="1" height="11"/>
<rect x="1154" y="573" width="1" height="8"/>
<rect x="1162" y="575" width="1" height="6"/>
<rect x="1170" y="578" width="1" height="3"/>
<rect x="1178" y="579" width="1" height="2"/>
<rect x="1186" y="580" width="1" height="1"/>
<rect x="1202" y="580" width="1" height="1"/>
<rect x="1210" y="580" width="1" height="1"/>
<rect x="1218" y="577" width="1" height="4"/>
<rect x="1226" y="573" width="1" height="8"/>
<rect x="1234" y="569" width="1" height="12"/>
<rect x="1242" y="566" width="1" height="15"/>
<rect x="1250" y="564" width="1" height="17"/>
<rect x="1258" y="562" width="1" height="19"/>
<rect x="1266" y="560" width="1" height="21"/>
<rect x="1274" y="558" width="1" height="23"/>
<rect x="1282" y="556" width="1" height="25"/>
<rect x="1290" y="555" width="1" height="26"/>
<rect x="1298" y="555" width="1" height="26"/>
<rect x="1306" y="554" width="1" height="27"/>
<rect x="1314" y="554" width="1" height="27"/>
<rect x="1322" y="554" width="1" height="27"/>
<rect x="1330" y="555" width="1" height="26"/>
<rect x="1338" y="557" width="1" height="24"/>
<rect x="1346" y="559" width="1" height="22"/>
</g>
<path d="M918 543.5h1M922 543.5h3M928 543.5h3M894 544.5h1M898 544.5h3M904 544.5h3M910 544.5h3M916 544.5h2M934 544.5h3M940 544.5h3M946 544.5h3M952 544.5h3M958 544.5h3M964 544.5h3M970 544.5h2M888 545.5h1M892 545.5h2M972 545.5h1M886 546.5h2M976 546.5h3M880 547.5h3M982 547.5h3M876 548.5h1M988 548.5h3M870 549.5h1M874 549.5h2M994 549.5h2M864 550.5h1M868 550.5h2M996 550.5h1M862 551.5h2M1000 551.5h3M856 552.5h3M852 553.5h1M1006 553.5h3M846 554.5h1M850 554.5h2M1336 554.5h3M1342 554.5h3M840 555.5h1M844 555.5h2M1012 555.5h3M1320 555.5h1M1324 555.5h3M1330 555.5h3M838 556.5h2M1018 556.5h2M1318 556.5h2M832 557.5h3M1020 557.5h1M1312 557.5h3M774 558.5h1M778 558.5h3M784 558.5h3M790 558.5h3M796 558.5h3M802 558.5h3M808 558.5h3M814 558.5h3M820 558.5h3M826 558.5h3M1024 558.5h3M1302 558.5h1M1306 558.5h3M760 559.5h3M766 559.5h3M772 559.5h2M1030 559.5h2M1300 559.5h2M750 560.5h1M754 560.5h3M1032 560.5h1M1294 560.5h3M742 561.5h3M748 561.5h2M1036 561.5h2M736 562.5h3M1038 562.5h1M1288 562.5h3M726 563.5h1M730 563.5h3M1042 563.5h3M1284 563.5h1M720 564.5h1M724 564.5h2M1048 564.5h3M1282 564.5h2M718 565.5h2M1054 565.5h3M1060 565.5h2M1278 565.5h1M712 566.5h3M1062 566.5h1M1066 566.5h3M1120 566.5h3M1126 566.5h3M1132 566.5h3M1138 566.5h3M1144 566.5h3M1276 566.5h2M702 567.5h1M706 567.5h3M1072 567.5h3M1096 567.5h3M1102 567.5h3M1108 567.5h3M1114 567.5h3M1150 567.5h3M1156 567.5h2M1272 567.5h1M694 568.5h3M700 568.5h2M1078 568.5h3M1084 568.5h3M1090 568.5h3M1158 568.5h1M1162 568.5h3M1270 568.5h2M688 569.5h3M1168 569.5h3M1265 569.5h2M678 570.5h1M682 570.5h3M1174 570.5h3M1180 570.5h2M1264 570.5h1M526 571.5h3M532 571.5h3M538 571.5h3M544 571.5h3M550 571.5h3M556 571.5h3M562 571.5h3M568 571.5h3M574 571.5h3M580 571.5h3M586 571.5h3M592 571.5h3M598 571.5h3M604 571.5h3M610 571.5h3M616 571.5h3M622 571.5h3M628 571.5h3M634 571.5h3M640 571.5h3M646 571.5h3M652 571.5h3M658 571.5h3M664 571.5h3M670 571.5h3M676 571.5h2M1182 571.5h1M1186 571.5h2M1260 571.5h1M520 572.5h3M1188 572.5h1M1258 572.5h2M502 573.5h3M508 573.5h3M514 573.5h3M1192 573.5h3M1252 573.5h3M496 574.5h3M1198 574.5h2M1246 574.5h3M486 575.5h1M490 575.5h3M1200 575.5h1M1240 575.5h3M472 576.5h3M478 576.5h3M484 576.5h2M1204 576.5h3M1236 576.5h1M454 577.5h3M460 577.5h3M466 577.5h3M1210 577.5h3M1216 577.5h3M1222 577.5h3M1228 577.5h3M1234 577.5h2M22 578.5h3M28 578.5h3M34 578.5h3M40 578.5h3M46 578.5h3M52 578.5h3M58 578.5h2M448 578.5h3M16 579.5h3M60 579.5h1M438 579.5h1M442 579.5h3M10 580.5h3M64 580.5h3M430 580.5h3M436 580.5h2M70 581.5h3M76 581.5h2M424 581.5h3M78 582.5h1M82 582.5h3M88 582.5h3M94 582.5h3M100 582.5h3M106 582.5h3M112 582.5h3M118 582.5h3M124 582.5h3M130 582.5h3M136 582.5h3M142 582.5h3M148 582.5h3M154 582.5h3M414 582.5h1M418 582.5h3M160 583.5h3M401 583.5h2M406 583.5h3M412 583.5h2M166 584.5h3M172 584.5h2M400 584.5h1M174 585.5h1M178 585.5h3M396 585.5h1M184 586.5h3M390 586.5h1M394 586.5h2M190 587.5h3M382 587.5h3M388 587.5h2M196 588.5h3M376 588.5h3M202 589.5h3M370 589.5h3M208 590.5h3M364 590.5h3M214 591.5h3M220 591.5h2M358 591.5h3M222 592.5h1M226 592.5h3M352 592.5h3M232 593.5h3M342 593.5h1M346 593.5h3M238 594.5h3M244 594.5h2M298 594.5h3M304 594.5h3M310 594.5h3M316 594.5h3M322 594.5h3M328 594.5h3M334 594.5h3M340 594.5h2M246 595.5h1M250 595.5h3M292 595.5h3M256 596.5h3M262 596.5h3M268 596.5h3M274 596.5h3M280 596.5h3M286 596.5h3" stroke="#ff0000" stroke-width="1" fill="none"/>
<line x1="11" y1="642.5" x2="1679" y2="642.5" stroke="#c0c0c0" stroke-dasharray="3 3"/>
<rect x="1679" y="642" width="1" height="1" fill="#fff" />
<line x1="11" y1="692.5" x2="1679" y2="692.5" stroke="#c0c0c0" stroke-dasharray="3 3"/>
<rect x="1679" y="692" width="1" height="1" fill="#fff" />
<path d="M834 619.5h1M832 620.5h2M835 620.5h1M830 621.5h2M835 621.5h1M829 622.5h1M836 622.5h1M827 623.5h2M837 623.5h1M826 624.5h1M837 624.5h1M825 625.5h1M838 625.5h1M705 626.5h3M824 626.5h1M839 626.5h1M702 627.5h3M708 627.5h2M720 627.5h3M823 627.5h1M839 627.5h1M700 628.5h2M710 628.5h3M716 628.5h4M723 628.5h1M822 628.5h1M840 628.5h1M698 629.5h2M713 629.5h3M723 629.5h1M821 629.5h1M841 629.5h1M906 629.5h1M696 630.5h2M724 630.5h1M820 630.5h1M841 630.5h1M904 630.5h2M907 630.5h1M694 631.5h2M725 631.5h1M819 631.5h1M842 631.5h1M903 631.5h1M907 631.5h1M681 632.5h3M693 632.5h1M725 632.5h1M818 632.5h1M843 632.5h1M902 632.5h1M908 632.5h1M678 633.5h3M684 633.5h4M691 633.5h2M726 633.5h1M817 633.5h1M844 633.5h2M900 633.5h2M908 633.5h1M676 634.5h2M688 634.5h3M727 634.5h1M817 634.5h1M846 634.5h1M899 634.5h1M909 634.5h1M672 635.5h4M727 635.5h1M758 635.5h5M816 635.5h1M847 635.5h1M898 635.5h1M909 635.5h1M1281 635.5h2M668 636.5h4M728 636.5h1M753 636.5h5M763 636.5h2M790 636.5h5M815 636.5h1M848 636.5h2M897 636.5h1M910 636.5h1M1278 636.5h3M1283 636.5h1M665 637.5h3M729 637.5h1M750 637.5h3M765 637.5h1M784 637.5h6M795 637.5h1M814 637.5h1M850 637.5h9M896 637.5h1M910 637.5h1M1276 637.5h2M1284 637.5h2M662 638.5h3M729 638.5h1M748 638.5h2M766 638.5h2M780 638.5h4M796 638.5h1M814 638.5h1M859 638.5h2M894 638.5h2M911 638.5h1M1272 638.5h4M1286 638.5h1M660 639.5h2M730 639.5h1M746 639.5h2M768 639.5h2M774 639.5h6M797 639.5h1M813 639.5h1M861 639.5h2M893 639.5h1M911 639.5h1M1268 639.5h4M1287 639.5h1M1305 639.5h3M658 640.5h2M731 640.5h1M745 640.5h1M770 640.5h4M798 640.5h2M812 640.5h1M863 640.5h2M892 640.5h1M912 640.5h1M942 640.5h5M1265 640.5h3M1288 640.5h2M1303 640.5h2M1308 640.5h4M656 641.5h2M732 641.5h1M744 641.5h1M800 641.5h1M811 641.5h1M865 641.5h13M891 641.5h1M912 641.5h1M928 641.5h14M947 641.5h2M1262 641.5h3M1290 641.5h2M1301 641.5h2M1312 641.5h3M655 642.5h1M733 642.5h1M743 642.5h1M801 642.5h1M811 642.5h1M878 642.5h13M913 642.5h1M924 642.5h4M949 642.5h1M1238 642.5h6M1260 642.5h2M1292 642.5h4M1299 642.5h2M1315 642.5h2M1329 642.5h2M654 643.5h1M734 643.5h1M742 643.5h1M802 643.5h9M913 643.5h1M918 643.5h6M950 643.5h2M1230 643.5h8M1244 643.5h2M1256 643.5h4M1296 643.5h3M1317 643.5h2M1326 643.5h3M1331 643.5h1M505 644.5h3M652 644.5h2M734 644.5h1M742 644.5h1M914 644.5h4M952 644.5h2M1226 644.5h4M1246 644.5h3M1252 644.5h4M1319 644.5h2M1324 644.5h2M1331 644.5h1M503 645.5h2M508 645.5h2M651 645.5h1M735 645.5h1M741 645.5h1M954 645.5h2M1225 645.5h1M1249 645.5h3M1321 645.5h3M1332 645.5h1M501 646.5h2M510 646.5h3M650 646.5h1M736 646.5h1M740 646.5h1M956 646.5h4M1224 646.5h1M1332 646.5h1M499 647.5h2M513 647.5h2M585 647.5h2M648 647.5h2M737 647.5h1M739 647.5h1M960 647.5h3M1223 647.5h1M1333 647.5h1M473 648.5h2M497 648.5h2M515 648.5h1M570 648.5h2M583 648.5h2M587 648.5h1M646 648.5h2M738 648.5h1M962 648.5h1M1073 648.5h2M1222 648.5h1M1333 648.5h1M378 649.5h1M470 649.5h3M475 649.5h1M495 649.5h2M516 649.5h1M568 649.5h2M572 649.5h2M581 649.5h2M588 649.5h1M645 649.5h1M963 649.5h1M1071 649.5h2M1075 649.5h2M1221 649.5h1M1334 649.5h1M377 650.5h1M379 650.5h1M468 650.5h2M476 650.5h1M493 650.5h2M517 650.5h1M567 650.5h1M574 650.5h3M579 650.5h2M589 650.5h1M643 650.5h2M963 650.5h1M1069 650.5h2M1077 650.5h2M1220 650.5h1M1334 650.5h1M377 651.5h1M379 651.5h1M446 651.5h6M464 651.5h4M476 651.5h1M491 651.5h2M518 651.5h2M566 651.5h1M577 651.5h2M590 651.5h1M608 651.5h11M640 651.5h3M964 651.5h1M1067 651.5h2M1079 651.5h2M1219 651.5h1M1335 651.5h1M376 652.5h1M380 652.5h1M442 652.5h4M452 652.5h4M460 652.5h4M477 652.5h1M490 652.5h1M520 652.5h1M564 652.5h2M591 652.5h1M604 652.5h4M619 652.5h1M636 652.5h4M964 652.5h1M1066 652.5h1M1081 652.5h5M1214 652.5h5M1335 652.5h1M376 653.5h1M381 653.5h1M441 653.5h1M456 653.5h4M478 653.5h1M488 653.5h2M521 653.5h1M563 653.5h1M592 653.5h1M600 653.5h4M620 653.5h1M634 653.5h2M965 653.5h1M1065 653.5h1M1086 653.5h5M1112 653.5h4M1210 653.5h4M1336 653.5h1M375 654.5h1M381 654.5h1M441 654.5h1M479 654.5h1M487 654.5h1M522 654.5h1M560 654.5h3M593 654.5h1M596 654.5h4M621 654.5h1M633 654.5h1M965 654.5h1M1002 654.5h1M1064 654.5h1M1091 654.5h1M1108 654.5h4M1116 654.5h2M1210 654.5h1M1336 654.5h1M375 655.5h1M382 655.5h1M440 655.5h1M480 655.5h1M486 655.5h1M523 655.5h2M556 655.5h4M594 655.5h2M622 655.5h1M632 655.5h1M966 655.5h1M1001 655.5h1M1003 655.5h1M1063 655.5h1M1092 655.5h1M1106 655.5h2M1118 655.5h3M1209 655.5h1M1337 655.5h1M90 656.5h1M374 656.5h1M383 656.5h1M394 656.5h1M417 656.5h2M439 656.5h1M480 656.5h1M484 656.5h2M525 656.5h2M554 656.5h2M622 656.5h1M630 656.5h2M966 656.5h1M1000 656.5h1M1004 656.5h2M1050 656.5h1M1062 656.5h1M1093 656.5h1M1104 656.5h2M1121 656.5h2M1209 656.5h1M1337 656.5h1M90 657.5h3M373 657.5h1M383 657.5h1M392 657.5h2M395 657.5h2M415 657.5h2M419 657.5h1M439 657.5h1M481 657.5h1M483 657.5h1M527 657.5h2M552 657.5h2M623 657.5h1M629 657.5h1M966 657.5h1M998 657.5h2M1006 657.5h1M1049 657.5h1M1051 657.5h2M1061 657.5h1M1094 657.5h2M1102 657.5h2M1123 657.5h1M1138 657.5h1M1208 657.5h1M1338 657.5h1M89 658.5h1M93 658.5h2M373 658.5h1M384 658.5h1M390 658.5h2M397 658.5h1M413 658.5h2M420 658.5h1M438 658.5h1M482 658.5h1M529 658.5h11M550 658.5h2M624 658.5h1M628 658.5h1M967 658.5h1M997 658.5h1M1007 658.5h1M1048 658.5h1M1053 658.5h2M1060 658.5h1M1096 658.5h1M1101 658.5h1M1124 658.5h2M1136 658.5h2M1139 658.5h1M1208 658.5h1M1338 658.5h9M89 659.5h1M95 659.5h2M372 659.5h1M385 659.5h1M389 659.5h1M398 659.5h2M411 659.5h2M421 659.5h1M437 659.5h1M540 659.5h2M549 659.5h1M625 659.5h1M627 659.5h1M967 659.5h1M996 659.5h1M1008 659.5h2M1048 659.5h1M1055 659.5h2M1059 659.5h1M1097 659.5h1M1099 659.5h2M1126 659.5h1M1134 659.5h2M1139 659.5h1M1207 659.5h1M88 660.5h1M97 660.5h2M372 660.5h1M385 660.5h1M387 660.5h2M400 660.5h2M406 660.5h5M422 660.5h1M437 660.5h1M542 660.5h3M547 660.5h2M626 660.5h1M968 660.5h1M995 660.5h1M1010 660.5h2M1047 660.5h1M1057 660.5h2M1098 660.5h1M1127 660.5h1M1133 660.5h1M1140 660.5h1M1207 660.5h1M88 661.5h1M99 661.5h1M371 661.5h1M386 661.5h1M402 661.5h4M423 661.5h1M436 661.5h1M545 661.5h2M968 661.5h1M990 661.5h5M1012 661.5h2M1046 661.5h1M1128 661.5h2M1131 661.5h2M1141 661.5h1M1207 661.5h1M87 662.5h1M100 662.5h1M371 662.5h1M424 662.5h1M435 662.5h1M969 662.5h1M986 662.5h4M1014 662.5h3M1045 662.5h1M1130 662.5h1M1142 662.5h1M1206 662.5h1M87 663.5h1M101 663.5h1M358 663.5h13M425 663.5h1M435 663.5h1M969 663.5h1M984 663.5h2M1017 663.5h5M1044 663.5h1M1142 663.5h1M1206 663.5h1M86 664.5h1M102 664.5h2M350 664.5h8M426 664.5h9M970 664.5h1M982 664.5h2M1022 664.5h14M1044 664.5h1M1143 664.5h1M1205 664.5h1M86 665.5h1M104 665.5h1M342 665.5h8M970 665.5h2M981 665.5h1M1036 665.5h4M1043 665.5h1M1144 665.5h1M1205 665.5h1M85 666.5h1M105 666.5h1M334 666.5h8M972 666.5h4M979 666.5h2M1040 666.5h3M1145 666.5h1M1205 666.5h1M85 667.5h1M106 667.5h1M330 667.5h4M976 667.5h3M1145 667.5h1M1204 667.5h1M84 668.5h1M107 668.5h2M330 668.5h1M1146 668.5h2M1204 668.5h1M84 669.5h1M109 669.5h1M329 669.5h1M1148 669.5h2M1203 669.5h1M10 670.5h4M83 670.5h1M110 670.5h2M329 670.5h1M1150 670.5h3M1190 670.5h6M1203 670.5h1M14 671.5h14M83 671.5h1M112 671.5h2M329 671.5h1M1153 671.5h3M1177 671.5h13M1196 671.5h4M1202 671.5h1M28 672.5h4M80 672.5h3M114 672.5h4M126 672.5h5M328 672.5h1M1156 672.5h4M1175 672.5h2M1200 672.5h3M32 673.5h3M76 673.5h4M118 673.5h8M131 673.5h1M328 673.5h1M1160 673.5h4M1173 673.5h2M35 674.5h2M65 674.5h11M132 674.5h1M328 674.5h1M1164 674.5h4M1171 674.5h2M37 675.5h1M62 675.5h3M133 675.5h1M327 675.5h1M1168 675.5h3M38 676.5h2M60 676.5h2M134 676.5h1M327 676.5h1M40 677.5h2M54 677.5h6M134 677.5h1M327 677.5h1M42 678.5h12M135 678.5h1M326 678.5h1M136 679.5h1M326 679.5h1M137 680.5h1M142 680.5h13M325 680.5h1M138 681.5h4M155 681.5h1M250 681.5h1M325 681.5h1M156 682.5h2M248 682.5h2M251 682.5h2M325 682.5h1M158 683.5h1M246 683.5h2M253 683.5h2M264 683.5h6M324 683.5h1M159 684.5h1M226 684.5h2M245 684.5h1M255 684.5h2M260 684.5h4M270 684.5h21M324 684.5h1M160 685.5h2M226 685.5h1M228 685.5h4M243 685.5h2M257 685.5h3M291 685.5h2M324 685.5h1M162 686.5h1M225 686.5h1M232 686.5h11M293 686.5h1M323 686.5h1M163 687.5h2M225 687.5h1M294 687.5h2M323 687.5h1M165 688.5h1M177 688.5h2M224 688.5h1M296 688.5h2M323 688.5h1M166 689.5h2M174 689.5h3M179 689.5h1M224 689.5h1M298 689.5h4M310 689.5h8M322 689.5h1M168 690.5h2M172 690.5h2M180 690.5h2M223 690.5h1M302 690.5h8M318 690.5h5M170 691.5h2M182 691.5h1M206 691.5h5M223 691.5h1M183 692.5h1M198 692.5h8M211 692.5h1M222 692.5h1M184 693.5h2M190 693.5h8M212 693.5h1M222 693.5h1M186 694.5h4M212 694.5h1M221 694.5h1M213 695.5h1M221 695.5h1M214 696.5h1M220 696.5h1M215 697.5h1M220 697.5h1M216 698.5h1M219 698.5h1M216 699.5h1M219 699.5h1M217 700.5h2M218 701.5h1" stroke="#1e90ff" stroke-width="1" fill="none"/>
<rect x="1680" y="76" width="2" height="1" fill="#000" />
<text y="81" font-size="12" fill="#000" font-weight="normal" ><tspan x="1686" textLength="7" lengthAdjust="spacingAndGlyphs">4</tspan><tspan x="1693" textLength="7" lengthAdjust="spacingAndGlyphs">0</tspan><tspan x="1700" textLength="7" lengthAdjust="spacingAndGlyphs">9</tspan><tspan x="1707" textLength="7" lengthAdjust="spacingAndGlyphs">8</tspan><tspan x="1714" textLength="4" lengthAdjust="spacingAndGlyphs">.</tspan><tspan x="1718" textLength="7" lengthAdjust="spacingAndGlyphs">5</tspan></text>
<rect x="1680" y="125" width="2" height="1" fill="#000" />
<text y="130" font-size="12" fill="#000" font-weight="normal" ><tspan x="1686" textLength="7" lengthAdjust="spacingAndGlyphs">3</tspan><tspan x="1693" textLength="7" lengthAdjust="spacingAndGlyphs">9</tspan><tspan x="1700" textLength="7" lengthAdjust="spacingAndGlyphs">7</tspan><tspan x="1707" textLength="7" lengthAdjust="spacingAndGlyphs">1</tspan><tspan x="1714" textLength="4" lengthAdjust="spacingAndGlyphs">.</tspan><tspan x="1718" textLength="7" lengthAdjust="spacingAndGlyphs">0</tspan></text>
<rect x="1680" y="174" width="2" height="1" fill="#000" />
<text y="179" font-size="12" fill="#000" font-weight="normal" ><tspan x="1686" textLength="7" lengthAdjust="spacingAndGlyphs">3</tspan><tspan x="1693" textLength="7" lengthAdjust="spacingAndGlyphs">8</tspan><tspan x="1700" textLength="7" lengthAdjust="spacingAndGlyphs">4</tspan><tspan x="1707" textLength="7" lengthAdjust="spacingAndGlyphs">3</tspan><tspan x="1714" textLength="4" lengthAdjust="spacingAndGlyphs">.</tspan><tspan x="1718" textLength="7" lengthAdjust="spacingAndGlyphs">5</tspan></text>
<rect x="1680" y="223" width="2" height="1" fill="#000" />
<text y="228" font-size="12" fill="#000" font-weight="normal" ><tspan x="1686" textLength="7" lengthAdjust="spacingAndGlyphs">3</tspan><tspan x="1693" textLength="7" lengthAdjust="spacingAndGlyphs">7</tspan><tspan x="1700" textLength="7" lengthAdjust="spacingAndGlyphs">1</tspan><tspan x="1707" textLength="7" lengthAdjust="spacingAndGlyphs">8</tspan><tspan x="1714" textLength="4" lengthAdjust="spacingAndGlyphs">.</tspan><tspan x="1718" textLength="7" lengthAdjust="spacingAndGlyphs">5</tspan></text>
<rect x="1680" y="272" width="2" height="1" fill="#000" />
<text y="277" font-size="12" fill="#000" font-weight="normal" ><tspan x="1686" textLength="7" lengthAdjust="spacingAndGlyphs">3</tspan><tspan x="1693" textLength="7" lengthAdjust="spacingAndGlyphs">5</tspan><tspan x="1700" textLength="7" lengthAdjust="spacingAndGlyphs">9</tspan><tspan x="1707" textLength="7" lengthAdjust="spacingAndGlyphs">1</tspan><tspan x="1714" textLength="4" lengthAdjust="spacingAndGlyphs">.</tspan><tspan x="1718" textLength="7" lengthAdjust="spacingAndGlyphs">0</tspan></text>
<rect x="1680" y="321" width="2" height="1" fill="#000" />
<text y="326" font-size="12" fill="#000" font-weight="normal" ><tspan x="1686" textLength="7" lengthAdjust="spacingAndGlyphs">3</tspan><tspan x="1693" textLength="7" lengthAdjust="spacingAndGlyphs">4</tspan><tspan x="1700" textLength="7" lengthAdjust="spacingAndGlyphs">6</tspan><tspan x="1707" textLength="7" lengthAdjust="spacingAndGlyphs">6</tspan><tspan x="1714" textLength="4" lengthAdjust="spacingAndGlyphs">.</tspan><tspan x="1718" textLength="7" lengthAdjust="spacingAndGlyphs">0</tspan></text>
<rect x="1680" y="370" width="2" height="1" fill="#000" />
<text y="375" font-size="12" fill="#000" font-weight="normal" ><tspan x="1686" textLength="7" lengthAdjust="spacingAndGlyphs">3</tspan><tspan x="1693" textLength="7" lengthAdjust="spacingAndGlyphs">3</tspan><tspan x="1700" textLength="7" lengthAdjust="spacingAndGlyphs">3</tspan><tspan x="1707" textLength="7" lengthAdjust="spacingAndGlyphs">8</tspan><tspan x="1714" textLength="4" lengthAdjust="spacingAndGlyphs">.</tspan><tspan x="1718" textLength="7" lengthAdjust="spacingAndGlyphs">5</tspan></text>
<rect x="1680" y="419" width="2" height="1" fill="#000" />
<text y="424" font-size="12" fill="#000" font-weight="normal" ><tspan x="1686" textLength="7" lengthAdjust="spacingAndGlyphs">3</tspan><tspan x="1693" textLength="7" lengthAdjust="spacingAndGlyphs">2</tspan><tspan x="1700" textLength="7" lengthAdjust="spacingAndGlyphs">1</tspan><tspan x="1707" textLength="7" lengthAdjust="spacingAndGlyphs">1</tspan><tspan x="1714" textLength="4" lengthAdjust="spacingAndGlyphs">.</tspan><tspan x="1718" textLength="7" lengthAdjust="spacingAndGlyphs">0</tspan></text>
<rect x="1680" y="468" width="2" height="1" fill="#000" />
<text y="473" font-size="12" fill="#000" font-weight="normal" ><tspan x="1686" textLength="7" lengthAdjust="spacingAndGlyphs">3</tspan><tspan x="1693" textLength="7" lengthAdjust="spacingAndGlyphs">0</tspan><tspan x="1700" textLength="7" lengthAdjust="spacingAndGlyphs">8</tspan><tspan x="1707" textLength="7" lengthAdjust="spacingAndGlyphs">6</tspan><tspan x="1714" textLength="4" lengthAdjust="spacingAndGlyphs">.</tspan><tspan x="1718" textLength="7" lengthAdjust="spacingAndGlyphs">0</tspan></text>
<rect x="1680" y="517" width="2" height="1" fill="#000" />
<text y="522" font-size="12" fill="#000" font-weight="normal" ><tspan x="1686" textLength="7" lengthAdjust="spacingAndGlyphs">2</tspan><tspan x="1693" textLength="7" lengthAdjust="spacingAndGlyphs">9</tspan><tspan x="1700" textLength="7" lengthAdjust="spacingAndGlyphs">5</tspan><tspan x="1707" textLength="7" lengthAdjust="spacingAndGlyphs">8</tspan><tspan x="1714" textLength="4" lengthAdjust="spacingAndGlyphs">.</tspan><tspan x="1718" textLength="7" lengthAdjust="spacingAndGlyphs">5</tspan></text>
<rect x="1681" y="527" width="49" height="14" fill="#ff0000" />
<text y="538.5" font-size="12" fill="#fff" font-weight="normal" ><tspan x="1686" textLength="7" lengthAdjust="spacingAndGlyphs">2</tspan><tspan x="1693" textLength="7" lengthAdjust="spacingAndGlyphs">9</tspan><tspan x="1700" textLength="7" lengthAdjust="spacingAndGlyphs">1</tspan><tspan x="1707" textLength="7" lengthAdjust="spacingAndGlyphs">7</tspan><tspan x="1714" textLength="4" lengthAdjust="spacingAndGlyphs">.</tspan><tspan x="1718" textLength="7" lengthAdjust="spacingAndGlyphs">0</tspan></text>
<rect x="1681" y="521" width="49" height="14" fill="#008000" />
<text y="532.5" font-size="12" fill="#fff" font-weight="normal" ><tspan x="1686" textLength="7" lengthAdjust="spacingAndGlyphs">2</tspan><tspan x="1693" textLength="7" lengthAdjust="spacingAndGlyphs">9</tspan><tspan x="1700" textLength="7" lengthAdjust="spacingAndGlyphs">3</tspan><tspan x="1707" textLength="7" lengthAdjust="spacingAndGlyphs">3</tspan><tspan x="1714" textLength="4" lengthAdjust="spacingAndGlyphs">.</tspan><tspan x="1718" textLength="7" lengthAdjust="spacingAndGlyphs">8</tspan></text>
<rect x="1681" y="58" width="49" height="14" fill="#ff0000" />
<text y="69.5" font-size="12" fill="#fff" font-weight="normal" ><tspan x="1686" textLength="7" lengthAdjust="spacingAndGlyphs">4</tspan><tspan x="1693" textLength="7" lengthAdjust="spacingAndGlyphs">1</tspan><tspan x="1700" textLength="7" lengthAdjust="spacingAndGlyphs">2</tspan><tspan x="1707" textLength="7" lengthAdjust="spacingAndGlyphs">7</tspan><tspan x="1714" textLength="4" lengthAdjust="spacingAndGlyphs">.</tspan><tspan x="1718" textLength="7" lengthAdjust="spacingAndGlyphs">6</tspan></text>
<rect x="1681" y="102" width="49" height="14" fill="#000000" />
<text y="113.5" font-size="12" fill="#fff" font-weight="normal" ><tspan x="1686" textLength="7" lengthAdjust="spacingAndGlyphs">4</tspan><tspan x="1693" textLength="7" lengthAdjust="spacingAndGlyphs">0</tspan><tspan x="1700" textLength="7" lengthAdjust="spacingAndGlyphs">1</tspan><tspan x="1707" textLength="7" lengthAdjust="spacingAndGlyphs">2</tspan><tspan x="1714" textLength="4" lengthAdjust="spacingAndGlyphs">.</tspan><tspan x="1718" textLength="7" lengthAdjust="spacingAndGlyphs">4</tspan></text>
<rect x="1681" y="136" width="49" height="14" fill="#00ff7f" />
<text y="147.5" font-size="12" fill="#fff" font-weight="normal" ><tspan x="1686" textLength="7" lengthAdjust="spacingAndGlyphs">3</tspan><tspan x="1693" textLength="7" lengthAdjust="spacingAndGlyphs">9</tspan><tspan x="1700" textLength="7" lengthAdjust="spacingAndGlyphs">2</tspan><tspan x="1707" textLength="7" lengthAdjust="spacingAndGlyphs">6</tspan><tspan x="1714" textLength="4" lengthAdjust="spacingAndGlyphs">.</tspan><tspan x="1718" textLength="7" lengthAdjust="spacingAndGlyphs">0</tspan></text>
<rect x="1681" y="184" width="49" height="14" fill="#0000ff" />
<text y="195.5" font-size="12" fill="#fff" font-weight="normal" ><tspan x="1686" textLength="7" lengthAdjust="spacingAndGlyphs">3</tspan><tspan x="1693" textLength="7" lengthAdjust="spacingAndGlyphs">8</tspan><tspan x="1700" textLength="7" lengthAdjust="spacingAndGlyphs">0</tspan><tspan x="1707" textLength="7" lengthAdjust="spacingAndGlyphs">3</tspan><tspan x="1714" textLength="4" lengthAdjust="spacingAndGlyphs">.</tspan><tspan x="1718" textLength="7" lengthAdjust="spacingAndGlyphs">8</tspan></text>
<rect x="1681" y="233" width="49" height="14" fill="#0000ff" />
<text y="244.5" font-size="12" fill="#fff" font-weight="normal" ><tspan x="1686" textLength="7" lengthAdjust="spacingAndGlyphs">3</tspan><tspan x="1693" textLength="7" lengthAdjust="spacingAndGlyphs">6</tspan><tspan x="1700" textLength="7" lengthAdjust="spacingAndGlyphs">7</tspan><tspan x="1707" textLength="7" lengthAdjust="spacingAndGlyphs">6</tspan><tspan x="1714" textLength="4" lengthAdjust="spacingAndGlyphs">.</tspan><tspan x="1718" textLength="7" lengthAdjust="spacingAndGlyphs">5</tspan></text>
<text y="552" font-size="12" fill="#000" font-weight="normal" ><tspan x="1681.6" textLength="7" lengthAdjust="spacingAndGlyphs">1</tspan><tspan x="1688.6" textLength="7" lengthAdjust="spacingAndGlyphs">2</tspan><tspan x="1695.6" textLength="7" lengthAdjust="spacingAndGlyphs">1</tspan><tspan x="1702.6" textLength="4" lengthAdjust="spacingAndGlyphs">.</tspan><tspan x="1706.6" textLength="7" lengthAdjust="spacingAndGlyphs">8</tspan><tspan x="1713.6" textLength="7" lengthAdjust="spacingAndGlyphs">4</tspan></text>
<text y="585" font-size="12" fill="#000" font-weight="normal" ><tspan x="1681.6" textLength="7" lengthAdjust="spacingAndGlyphs">0</tspan><tspan x="1688.6" textLength="4" lengthAdjust="spacingAndGlyphs">.</tspan><tspan x="1692.6" textLength="7" lengthAdjust="spacingAndGlyphs">0</tspan><tspan x="1699.6" textLength="7" lengthAdjust="spacingAndGlyphs">0</tspan></text>
<text y="597" font-size="12" fill="#000" font-weight="normal" ><tspan x="1681.6" textLength="4" lengthAdjust="spacingAndGlyphs">-</tspan><tspan x="1685.6" textLength="7" lengthAdjust="spacingAndGlyphs">5</tspan><tspan x="1692.6" textLength="7" lengthAdjust="spacingAndGlyphs">7</tspan><tspan x="1699.6" textLength="4" lengthAdjust="spacingAndGlyphs">.</tspan><tspan x="1703.6" textLength="7" lengthAdjust="spacingAndGlyphs">2</tspan><tspan x="1710.6" textLength="7" lengthAdjust="spacingAndGlyphs">6</tspan></text>
<rect x="1680" y="580" width="2" height="1" fill="#000" />
<text y="616" font-size="12" fill="#000" font-weight="normal" ><tspan x="1681.6" textLength="7" lengthAdjust="spacingAndGlyphs">1</tspan><tspan x="1688.6" textLength="7" lengthAdjust="spacingAndGlyphs">0</tspan><tspan x="1695.6" textLength="7" lengthAdjust="spacingAndGlyphs">0</tspan></text>
<text y="647" font-size="12" fill="#000" font-weight="normal" ><tspan x="1681.6" textLength="7" lengthAdjust="spacingAndGlyphs">7</tspan><tspan x="1688.6" textLength="7" lengthAdjust="spacingAndGlyphs">0</tspan></text>
<text y="697" font-size="12" fill="#000" font-weight="normal" ><tspan x="1681.6" textLength="7" lengthAdjust="spacingAndGlyphs">3</tspan><tspan x="1688.6" textLength="7" lengthAdjust="spacingAndGlyphs">0</tspan></text>
<text y="728" font-size="12" fill="#000" font-weight="normal" ><tspan x="1681.6" textLength="7" lengthAdjust="spacingAndGlyphs">0</tspan></text>
<rect x="10" y="732" width="1" height="3" fill="#000" />
<text y="747" font-size="12" fill="#000" font-weight="normal" ><tspan x="8.5" textLength="7" lengthAdjust="spacingAndGlyphs">6</tspan><tspan x="15.5"> </tspan><tspan x="19.5" textLength="8" lengthAdjust="spacingAndGlyphs">D</tspan><tspan x="27.5" textLength="6" lengthAdjust="spacingAndGlyphs">e</tspan><tspan x="33.5" textLength="6" lengthAdjust="spacingAndGlyphs">c</tspan><tspan x="39.5"> </tspan><tspan x="43.5" textLength="7" lengthAdjust="spacingAndGlyphs">2</tspan><tspan x="50.5" textLength="7" lengthAdjust="spacingAndGlyphs">0</tspan><tspan x="57.5" textLength="7" lengthAdjust="spacingAndGlyphs">1</tspan><tspan x="64.5" textLength="7" lengthAdjust="spacingAndGlyphs">8</tspan></text>
<rect x="106" y="732" width="1" height="3" fill="#000" />
<text y="747" font-size="12" fill="#000" font-weight="normal" ><tspan x="104.5" textLength="7" lengthAdjust="spacingAndGlyphs">1</tspan><tspan x="111.5" textLength="7" lengthAdjust="spacingAndGlyphs">4</tspan><tspan x="118.5"> </tspan><tspan x="122.5" textLength="8" lengthAdjust="spacingAndGlyphs">D</tspan><tspan x="130.5" textLength="6" lengthAdjust="spacingAndGlyphs">e</tspan><tspan x="136.5" textLength="6" lengthAdjust="spacingAndGlyphs">c</tspan><tspan x="142.5"> </tspan><tspan x="146.5" textLength="7" lengthAdjust="spacingAndGlyphs">0</tspan><tspan x="153.5" textLength="7" lengthAdjust="spacingAndGlyphs">1</tspan><tspan x="160.5" textLength="4" lengthAdjust="spacingAndGlyphs">:</tspan><tspan x="164.5" textLength="7" lengthAdjust="spacingAndGlyphs">3</tspan><tspan x="171.5" textLength="7" lengthAdjust="spacingAndGlyphs">0</tspan></text>
<rect x="202" y="732" width="1" height="3" fill="#000" />
<text y="747" font-size="12" fill="#000" font-weight="normal" ><tspan x="200.5" textLength="7" lengthAdjust="spacingAndGlyphs">2</tspan><tspan x="207.5" textLength="7" lengthAdjust="spacingAndGlyphs">4</tspan><tspan x="214.5"> </tspan><tspan x="218.5" textLength="8" lengthAdjust="spacingAndGlyphs">D</tspan><tspan x="226.5" textLength="6" lengthAdjust="spacingAndGlyphs">e</tspan><tspan x="232.5" textLength="6" lengthAdjust="spacingAndGlyphs">c</tspan><tspan x="238.5"> </tspan><tspan x="242.5" textLength="7" lengthAdjust="spacingAndGlyphs">0</tspan><tspan x="249.5" textLength="7" lengthAdjust="spacingAndGlyphs">1</tspan><tspan x="256.5" textLength="4" lengthAdjust="spacingAndGlyphs">:</tspan><tspan x="260.5" textLength="7" lengthAdjust="spacingAndGlyphs">3</tspan><tspan x="267.5" textLength="7" lengthAdjust="spacingAndGlyphs">0</tspan></text>
<rect x="298" y="732" width="1" height="3" fill="#000" />
<text y="747" font-size="12" fill="#000" font-weight="normal" ><tspan x="296.5" textLength="7" lengthAdjust="spacingAndGlyphs">2</tspan><tspan x="303.5"> </tspan><tspan x="307.5" textLength="5" lengthAdjust="spacingAndGlyphs">J</tspan><tspan x="312.5" textLength="6" lengthAdjust="spacingAndGlyphs">a</tspan><tspan x="318.5" textLength="7" lengthAdjust="spacingAndGlyphs">n</tspan><tspan x="325.5"> </tspan><tspan x="329.5" textLength="7" lengthAdjust="spacingAndGlyphs">0</tspan><tspan x="336.5" textLength="7" lengthAdjust="spacingAndGlyphs">1</tspan><tspan x="343.5" textLength="4" lengthAdjust="spacingAndGlyphs">:</tspan><tspan x="347.5" textLength="7" lengthAdjust="spacingAndGlyphs">3</tspan><tspan x="354.5" textLength="7" lengthAdjust="spacingAndGlyphs">0</tspan></text>
<rect x="394" y="732" width="1" height="3" fill="#000" />
<text y="747" font-size="12" fill="#000" font-weight="normal" ><tspan x="392.5" textLength="7" lengthAdjust="spacingAndGlyphs">1</tspan><tspan x="399.5" textLength="7" lengthAdjust="spacingAndGlyphs">0</tspan><tspan x="406.5"> </tspan><tspan x="410.5" textLength="5" lengthAdjust="spacingAndGlyphs">J</tspan><tspan x="415.5" textLength="6" lengthAdjust="spacingAndGlyphs">a</tspan><tspan x="421.5" textLength="7" lengthAdjust="spacingAndGlyphs">n</tspan><tspan x="428.5"> </tspan><tspan x="432.5" textLength="7" lengthAdjust="spacingAndGlyphs">0</tspan><tspan x="439.5" textLength="7" lengthAdjust="spacingAndGlyphs">1</tspan><tspan x="446.5" textLength="4" lengthAdjust="spacingAndGlyphs">:</tspan><tspan x="450.5" textLength="7" lengthAdjust="spacingAndGlyphs">3</tspan><tspan x="457.5" textLength="7" lengthAdjust="spacingAndGlyphs">0</tspan></text>
<rect x="490" y="732" width="1" height="3" fill="#000" />
<text y="747" font-size="12" fill="#000" font-weight="normal" ><tspan x="488.5" textLength="7" lengthAdjust="spacingAndGlyphs">1</tspan><tspan x="495.5" textLength="7" lengthAdjust="spacingAndGlyphs">8</tspan><tspan x="502.5"> </tspan><tspan x="506.5" textLength="5" lengthAdjust="spacingAndGlyphs">J</tspan><tspan x="511.5" textLength="6" lengthAdjust="spacingAndGlyphs">a</tspan><tspan x="517.5" textLength="7" lengthAdjust="spacingAndGlyphs">n</tspan><tspan x="524.5"> </tspan><tspan x="528.5" textLength="7" lengthAdjust="spacingAndGlyphs">0</tspan><tspan x="535.5" textLength="7" lengthAdjust="spacingAndGlyphs">1</tspan><tspan x="542.5" textLength="4" lengthAdjust="spacingAndGlyphs">:</tspan><tspan x="546.5" textLength="7" lengthAdjust="spacingAndGlyphs">3</tspan><tspan x="553.5" textLength="7" lengthAdjust="spacingAndGlyphs">0</tspan></text>
<rect x="586" y="732" width="1" height="3" fill="#000" />
<text y="747" font-size="12" fill="#000" font-weight="normal" ><tspan x="584.5" textLength="7" lengthAdjust="spacingAndGlyphs">2</tspan><tspan x="591.5" textLength="7" lengthAdjust="spacingAndGlyphs">8</tspan><tspan x="598.5"> </tspan><tspan x="602.5" textLength="5" lengthAdjust="spacingAndGlyphs">J</tspan><tspan x="607.5" textLength="6" lengthAdjust="spacingAndGlyphs">a</tspan><tspan x="613.5" textLength="7" lengthAdjust="spacingAndGlyphs">n</tspan><tspan x="620.5"> </tspan><tspan x="624.5" textLength="7" lengthAdjust="spacingAndGlyphs">0</tspan><tspan x="631.5" textLength="7" lengthAdjust="spacingAndGlyphs">1</tspan><tspan x="638.5" textLength="4" lengthAdjust="spacingAndGlyphs">:</tspan><tspan x="642.5" textLength="7" lengthAdjust="spacingAndGlyphs">3</tspan><tspan x="649.5" textLength="7" lengthAdjust="spacingAndGlyphs">0</tspan></text>
<rect x="682" y="732" width="1" height="3" fill="#000" />
<text y="747" font-size="12" fill="#000" font-weight="normal" ><tspan x="680.5" textLength="7" lengthAdjust="spacingAndGlyphs">1</tspan><tspan x="687.5" textLength="7" lengthAdjust="spacingAndGlyphs">2</tspan><tspan x="694.5"> </tspan><tspan x="698.5" textLength="6" lengthAdjust="spacingAndGlyphs">F</tspan><tspan x="704.5" textLength="6" lengthAdjust="spacingAndGlyphs">e</tspan><tspan x="710.5" textLength="7" lengthAdjust="spacingAndGlyphs">b</tspan><tspan x="717.5"> </tspan><tspan x="721.5" textLength="7" lengthAdjust="spacingAndGlyphs">0</tspan><tspan x="728.5" textLength="7" lengthAdjust="spacingAndGlyphs">1</tspan><tspan x="735.5" textLength="4" lengthAdjust="spacingAndGlyphs">:</tspan><tspan x="739.5" textLength="7" lengthAdjust="spacingAndGlyphs">3</tspan><tspan x="746.5" textLength="7" lengthAdjust="spacingAndGlyphs">0</tspan></text>
<rect x="778" y="732" width="1" height="3" fill="#000" />
<text y="747" font-size="12" fill="#000" font-weight="normal" ><tspan x="776.5" textLength="7" lengthAdjust="spacingAndGlyphs">2</tspan><tspan x="783.5" textLength="7" lengthAdjust="spacingAndGlyphs">0</tspan><tspan x="790.5"> </tspan><tspan x="794.5" textLength="6" lengthAdjust="spacingAndGlyphs">F</tspan><tspan x="800.5" textLength="6" lengthAdjust="spacingAndGlyphs">e</tspan><tspan x="806.5" textLength="7" lengthAdjust="spacingAndGlyphs">b</tspan><tspan x="813.5"> </tspan><tspan x="817.5" textLength="7" lengthAdjust="spacingAndGlyphs">0</tspan><tspan x="824.5" textLength="7" lengthAdjust="spacingAndGlyphs">1</tspan><tspan x="831.5" textLength="4" lengthAdjust="spacingAndGlyphs">:</tspan><tspan x="835.5" textLength="7" lengthAdjust="spacingAndGlyphs">3</tspan><tspan x="842.5" textLength="7" lengthAdjust="spacingAndGlyphs">0</tspan></text>
<rect x="874" y="732" width="1" height="3" fill="#000" />
<text y="747" font-size="12" fill="#000" font-weight="normal" ><tspan x="872.5" textLength="7" lengthAdjust="spacingAndGlyphs">2</tspan><tspan x="879.5" textLength="7" lengthAdjust="spacingAndGlyphs">8</tspan><tspan x="886.5"> </tspan><tspan x="890.5" textLength="6" lengthAdjust="spacingAndGlyphs">F</tspan><tspan x="896.5" textLength="6" lengthAdjust="spacingAndGlyphs">e</tspan><tspan x="902.5" textLength="7" lengthAdjust="spacingAndGlyphs">b</tspan><tspan x="909.5"> </tspan><tspan x="913.5" textLength="7" lengthAdjust="spacingAndGlyphs">0</tspan><tspan x="920.5" textLength="7" lengthAdjust="spacingAndGlyphs">1</tspan><tspan x="927.5" textLength="4" lengthAdjust="spacingAndGlyphs">:</tspan><tspan x="931.5" textLength="7" lengthAdjust="spacingAndGlyphs">3</tspan><tspan x="938.5" textLength="7" lengthAdjust="spacingAndGlyphs">0</tspan></text>
<rect x="970" y="732" width="1" height="3" fill="#000" />
<text y="747" font-size="12" fill="#000" font-weight="normal" ><tspan x="968.5" textLength="7" lengthAdjust="spacingAndGlyphs">8</tspan><tspan x="975.5"> </tspan><tspan x="979.5" textLength="10" lengthAdjust="spacingAndGlyphs">M</tspan><tspan x="989.5" textLength="6" lengthAdjust="spacingAndGlyphs">a</tspan><tspan x="995.5" textLength="4" lengthAdjust="spacingAndGlyphs">r</tspan><tspan x="999.5"> </tspan><tspan x="1003.5" textLength="7" lengthAdjust="spacingAndGlyphs">0</tspan><tspan x="1010.5" textLength="7" lengthAdjust="spacingAndGlyphs">1</tspan><tspan x="1017.5" textLength="4" lengthAdjust="spacingAndGlyphs">:</tspan><tspan x="1021.5" textLength="7" lengthAdjust="spacingAndGlyphs">3</tspan><tspan x="1028.5" textLength="7" lengthAdjust="spacingAndGlyphs">0</tspan></text>
<rect x="1066" y="732" width="1" height="3" fill="#000" />
<text y="747" font-size="12" fill="#000" font-weight="normal" ><tspan x="1064.5" textLength="7" lengthAdjust="spacingAndGlyphs">1</tspan><tspan x="1071.5" textLength="7" lengthAdjust="spacingAndGlyphs">8</tspan><tspan x="1078.5"> </tspan><tspan x="1082.5" textLength="10" lengthAdjust="spacingAndGlyphs">M</tspan><tspan x="1092.5" textLength="6" lengthAdjust="spacingAndGlyphs">a</tspan><tspan x="1098.5" textLength="4" lengthAdjust="spacingAndGlyphs">r</tspan><tspan x="1102.5"> </tspan><tspan x="1106.5" textLength="7" lengthAdjust="spacingAndGlyphs">0</tspan><tspan x="1113.5" textLength="7" lengthAdjust="spacingAndGlyphs">1</tspan><tspan x="1120.5" textLength="4" lengthAdjust="spacingAndGlyphs">:</tspan><tspan x="1124.5" textLength="7" lengthAdjust="spacingAndGlyphs">3</tspan><tspan x="1131.5" textLength="7" lengthAdjust="spacingAndGlyphs">0</tspan></text>
<rect x="1162" y="732" width="1" height="3" fill="#000" />
<text y="747" font-size="12" fill="#000" font-weight="normal" ><tspan x="1160.5" textLength="7" lengthAdjust="spacingAndGlyphs">2</tspan><tspan x="1167.5" textLength="7" lengthAdjust="spacingAndGlyphs">6</tspan><tspan x="1174.5"> </tspan><tspan x="1178.5" textLength="10" lengthAdjust="spacingAndGlyphs">M</tspan><tspan x="1188.5" textLength="6" lengthAdjust="spacingAndGlyphs">a</tspan><tspan x="1194.5" textLength="4" lengthAdjust="spacingAndGlyphs">r</tspan><tspan x="1198.5"> </tspan><tspan x="1202.5" textLength="7" lengthAdjust="spacingAndGlyphs">0</tspan><tspan x="1209.5" textLength="7" lengthAdjust="spacingAndGlyphs">1</tspan><tspan x="1216.5" textLength="4" lengthAdjust="spacingAndGlyphs">:</tspan><tspan x="1220.5" textLength="7" lengthAdjust="spacingAndGlyphs">3</tspan><tspan x="1227.5" textLength="7" lengthAdjust="spacingAndGlyphs">0</tspan></text>
<rect x="1258" y="732" width="1" height="3" fill="#000" />
<text y="747" font-size="12" fill="#000" font-weight="normal" ><tspan x="1256.5" textLength="7" lengthAdjust="spacingAndGlyphs">3</tspan><tspan x="1263.5"> </tspan><tspan x="1267.5" textLength="7" lengthAdjust="spacingAndGlyphs">A</tspan><tspan x="1274.5" textLength="7" lengthAdjust="spacingAndGlyphs">p</tspan><tspan x="1281.5" textLength="4" lengthAdjust="spacingAndGlyphs">r</tspan><tspan x="1285.5"> </tspan><tspan x="1289.5" textLength="7" lengthAdjust="spacingAndGlyphs">0</tspan><tspan x="1296.5" textLength="7" lengthAdjust="spacingAndGlyphs">1</tspan><tspan x="1303.5" textLength="4" lengthAdjust="spacingAndGlyphs">:</tspan><tspan x="1307.5" textLength="7" lengthAdjust="spacingAndGlyphs">3</tspan><tspan x="1314.5" textLength="7" lengthAdjust="spacingAndGlyphs">0</tspan></text>
<path d="M13 51 L22 51 L17.5 46 Z" fill="#000" shape-rendering="geometricPrecision"/>
<text y="53" font-size="12" fill="#000" font-weight="normal" ><tspan x="28" textLength="7" lengthAdjust="spacingAndGlyphs">C</tspan><tspan x="35" textLength="8" lengthAdjust="spacingAndGlyphs">H</tspan><tspan x="43" textLength="4" lengthAdjust="spacingAndGlyphs">I</tspan><tspan x="47" textLength="8" lengthAdjust="spacingAndGlyphs">N</tspan><tspan x="55" textLength="7" lengthAdjust="spacingAndGlyphs">A</tspan><tspan x="62" textLength="7" lengthAdjust="spacingAndGlyphs">3</tspan><tspan x="69" textLength="7" lengthAdjust="spacingAndGlyphs">0</tspan><tspan x="76" textLength="7" lengthAdjust="spacingAndGlyphs">0</tspan><tspan x="83" textLength="4" lengthAdjust="spacingAndGlyphs">-</tspan><tspan x="87" textLength="4" lengthAdjust="spacingAndGlyphs">,</tspan><tspan x="91" textLength="8" lengthAdjust="spacingAndGlyphs">H</tspan><tspan x="99" textLength="7" lengthAdjust="spacingAndGlyphs">4</tspan><tspan x="106"> </tspan><tspan x="110"> </tspan><tspan x="114" textLength="7" lengthAdjust="spacingAndGlyphs">4</tspan><tspan x="121" textLength="7" lengthAdjust="spacingAndGlyphs">0</tspan><tspan x="128" textLength="7" lengthAdjust="spacingAndGlyphs">0</tspan><tspan x="135" textLength="7" lengthAdjust="spacingAndGlyphs">8</tspan><tspan x="142" textLength="4" lengthAdjust="spacingAndGlyphs">.</tspan><tspan x="146" textLength="7" lengthAdjust="spacingAndGlyphs">6</tspan><tspan x="153"> </tspan><tspan x="157" textLength="7" lengthAdjust="spacingAndGlyphs">4</tspan><tspan x="164" textLength="7" lengthAdjust="spacingAndGlyphs">0</tspan><tspan x="171" textLength="7" lengthAdjust="spacingAndGlyphs">3</tspan><tspan x="178" textLength="7" lengthAdjust="spacingAndGlyphs">8</tspan><tspan x="185" textLength="4" lengthAdjust="spacingAndGlyphs">.</tspan><tspan x="189" textLength="7" lengthAdjust="spacingAndGlyphs">2</tspan><tspan x="196"> </tspan><tspan x="200" textLength="7" lengthAdjust="spacingAndGlyphs">3</tspan><tspan x="207" textLength="7" lengthAdjust="spacingAndGlyphs">9</tspan><tspan x="214" textLength="7" lengthAdjust="spacingAndGlyphs">8</tspan><tspan x="221" textLength="7" lengthAdjust="spacingAndGlyphs">6</tspan><tspan x="228" textLength="4" lengthAdjust="spacingAndGlyphs">.</tspan><tspan x="232" textLength="7" lengthAdjust="spacingAndGlyphs">2</tspan><tspan x="239"> </tspan><tspan x="243" textLength="7" lengthAdjust="spacingAndGlyphs">4</tspan><tspan x="250" textLength="7" lengthAdjust="spacingAndGlyphs">0</tspan><tspan x="257" textLength="7" lengthAdjust="spacingAndGlyphs">1</tspan><tspan x="264" textLength="7" lengthAdjust="spacingAndGlyphs">2</tspan><tspan x="271" textLength="4" lengthAdjust="spacingAndGlyphs">.</tspan><tspan x="275" textLength="7" lengthAdjust="spacingAndGlyphs">4</tspan></text>
<text y="554" font-size="12" fill="#000" font-weight="normal" ><tspan x="14" textLength="10" lengthAdjust="spacingAndGlyphs">M</tspan><tspan x="24" textLength="7" lengthAdjust="spacingAndGlyphs">A</tspan><tspan x="31" textLength="7" lengthAdjust="spacingAndGlyphs">C</tspan><tspan x="38" textLength="8" lengthAdjust="spacingAndGlyphs">D</tspan><tspan x="46" textLength="5" lengthAdjust="spacingAndGlyphs">(</tspan><tspan x="51" textLength="7" lengthAdjust="spacingAndGlyphs">1</tspan><tspan x="58" textLength="7" lengthAdjust="spacingAndGlyphs">2</tspan><tspan x="65" textLength="4" lengthAdjust="spacingAndGlyphs">,</tspan><tspan x="69" textLength="7" lengthAdjust="spacingAndGlyphs">2</tspan><tspan x="76" textLength="7" lengthAdjust="spacingAndGlyphs">6</tspan><tspan x="83" textLength="4" lengthAdjust="spacingAndGlyphs">,</tspan><tspan x="87" textLength="7" lengthAdjust="spacingAndGlyphs">9</tspan><tspan x="94" textLength="5" lengthAdjust="spacingAndGlyphs">)</tspan><tspan x="99"> </tspan><tspan x="103" textLength="7" lengthAdjust="spacingAndGlyphs">6</tspan><tspan x="110" textLength="7" lengthAdjust="spacingAndGlyphs">6</tspan><tspan x="117" textLength="4" lengthAdjust="spacingAndGlyphs">.</tspan><tspan x="121" textLength="7" lengthAdjust="spacingAndGlyphs">5</tspan><tspan x="128" textLength="7" lengthAdjust="spacingAndGlyphs">9</tspan><tspan x="135"> </tspan><tspan x="139" textLength="7" lengthAdjust="spacingAndGlyphs">7</tspan><tspan x="146" textLength="7" lengthAdjust="spacingAndGlyphs">7</tspan><tspan x="153" textLength="4" lengthAdjust="spacingAndGlyphs">.</tspan><tspan x="157" textLength="7" lengthAdjust="spacingAndGlyphs">5</tspan><tspan x="164" textLength="7" lengthAdjust="spacingAndGlyphs">5</tspan></text>
<text y="618" font-size="12" fill="#000" font-weight="normal" ><tspan x="14" textLength="7" lengthAdjust="spacingAndGlyphs">R</tspan><tspan x="21" textLength="7" lengthAdjust="spacingAndGlyphs">S</tspan><tspan x="28" textLength="4" lengthAdjust="spacingAndGlyphs">I</tspan><tspan x="32" textLength="5" lengthAdjust="spacingAndGlyphs">(</tspan><tspan x="37" textLength="7" lengthAdjust="spacingAndGlyphs">1</tspan><tspan x="44" textLength="7" lengthAdjust="spacingAndGlyphs">4</tspan><tspan x="51" textLength="5" lengthAdjust="spacingAndGlyphs">)</tspan><tspan x="56"> </tspan><tspan x="60" textLength="7" lengthAdjust="spacingAndGlyphs">5</tspan><tspan x="67" textLength="7" lengthAdjust="spacingAndGlyphs">7</tspan><tspan x="74" textLength="4" lengthAdjust="spacingAndGlyphs">.</tspan><tspan x="78" textLength="7" lengthAdjust="spacingAndGlyphs">2</tspan><tspan x="85" textLength="7" lengthAdjust="spacingAndGlyphs">4</tspan><tspan x="92" textLength="7" lengthAdjust="spacingAndGlyphs">0</tspan><tspan x="99" textLength="7" lengthAdjust="spacingAndGlyphs">6</tspan></text>
<rect x="11" y="61" width="287" height="77" fill="#ffffff" />
<rect x="13" y="61" width="68" height="28" fill="url(#gtab)" />
<rect x="13" y="88" width="141" height="49" fill="url(#gpan)" />
<rect x="228" y="61" width="68" height="28" fill="url(#gtab)" />
<rect x="156" y="88" width="140" height="49" fill="url(#gpan)" />
<rect x="13" y="61" width="68" height="1" fill="#c01010" />
<rect x="228" y="61" width="68" height="1" fill="#c01010" />
<rect x="13" y="61" width="1" height="76" fill="#c81818" />
<rect x="295" y="61" width="1" height="76" fill="#a80000" />
<rect x="80" y="61" width="1" height="28" fill="#c01010" />
<rect x="228" y="61" width="1" height="28" fill="#c01010" />
<rect x="13" y="136" width="141" height="1" fill="#a00000" />
<rect x="156" y="136" width="140" height="1" fill="#a00000" />
<rect x="153" y="88" width="1" height="49" fill="#a80000" />
<rect x="156" y="88" width="1" height="49" fill="#c01010" />
<rect x="81" y="88" width="73" height="1" fill="#c01010" />
<rect x="156" y="88" width="73" height="1" fill="#c01010" />
<rect x="17" y="87" width="61" height="1" fill="#a80808" />
<rect x="17" y="88" width="61" height="1" fill="#f06060" />
<rect x="232" y="87" width="60" height="1" fill="#a80808" />
<rect x="232" y="88" width="60" height="1" fill="#f06060" />
<rect x="82" y="61" width="145" height="27" fill="#ffffff" />
<rect x="83.5" y="61.5" width="142" height="25" fill="#fff" stroke="#abadb3"/>
<rect x="85" y="63" width="22" height="22" fill="url(#gbtn)" />
<rect x="84.5" y="62.5" width="22" height="23" fill="none" stroke="#c8c8c8"/>
<rect x="202" y="63" width="22" height="22" fill="url(#gbtn)" />
<rect x="201.5" y="62.5" width="23" height="23" fill="none" stroke="#c8c8c8"/>
<rect x="107" y="62" width="1" height="24" fill="#b4b8c4" />
<path d="M92 72 L100 72 L96 76 Z" fill="#4a5fb0" shape-rendering="geometricPrecision"/>
<path d="M209 75 L217 75 L213 71 Z" fill="#4a5fb0" shape-rendering="geometricPrecision"/>
<text y="78.7" font-size="15.6" fill="#000" font-weight="normal" ><tspan x="167" textLength="8.74" lengthAdjust="spacingAndGlyphs">1</tspan><tspan x="175.74" textLength="4.85" lengthAdjust="spacingAndGlyphs">.</tspan><tspan x="180.58" textLength="8.74" lengthAdjust="spacingAndGlyphs">0</tspan><tspan x="189.32" textLength="8.74" lengthAdjust="spacingAndGlyphs">0</tspan></text>
<text y="80" font-size="15.8" fill="#fff" font-weight="normal" ><tspan x="29.9" textLength="8.91" lengthAdjust="spacingAndGlyphs">S</tspan><tspan x="38.81" textLength="8.99" lengthAdjust="spacingAndGlyphs">E</tspan><tspan x="47.8" textLength="7.97" lengthAdjust="spacingAndGlyphs">L</tspan><tspan x="55.77" textLength="7.97" lengthAdjust="spacingAndGlyphs">L</tspan></text>
<text y="80" font-size="15.8" fill="#fff" font-weight="normal" ><tspan x="246.9" textLength="9.44" lengthAdjust="spacingAndGlyphs">B</tspan><tspan x="256.34" textLength="10.5" lengthAdjust="spacingAndGlyphs">U</tspan><tspan x="266.84" textLength="9.22" lengthAdjust="spacingAndGlyphs">Y</tspan></text>
<text y="126" font-size="15" fill="#fff" font-weight="bold" ><tspan x="42.5" textLength="8.92" lengthAdjust="spacingAndGlyphs">4</tspan><tspan x="51.42" textLength="8.92" lengthAdjust="spacingAndGlyphs">0</tspan><tspan x="60.34" textLength="8.92" lengthAdjust="spacingAndGlyphs">1</tspan><tspan x="69.25" textLength="8.92" lengthAdjust="spacingAndGlyphs">0</tspan></text>
<text y="126" font-size="15" fill="#fff" font-weight="bold" ><tspan x="184.8" textLength="8.92" lengthAdjust="spacingAndGlyphs">4</tspan><tspan x="193.72" textLength="8.92" lengthAdjust="spacingAndGlyphs">0</tspan><tspan x="202.64" textLength="8.92" lengthAdjust="spacingAndGlyphs">1</tspan><tspan x="211.55" textLength="8.92" lengthAdjust="spacingAndGlyphs">6</tspan></text>
<text y="126.3" font-size="41.5" fill="#fff" font-weight="normal" ><tspan x="81.5" textLength="12.57" lengthAdjust="spacingAndGlyphs">.</tspan></text>
<text y="126.3" font-size="41.5" fill="#fff" font-weight="normal" ><tspan x="91.5" textLength="22.66" lengthAdjust="spacingAndGlyphs">9</tspan></text>
<text y="126.3" font-size="41.5" fill="#fff" font-weight="normal" ><tspan x="223.5" textLength="12.57" lengthAdjust="spacingAndGlyphs">.</tspan></text>
<text y="126.3" font-size="41.5" fill="#fff" font-weight="normal" ><tspan x="235" textLength="22.66" lengthAdjust="spacingAndGlyphs">5</tspan></text>
</svg>
</body></html>
